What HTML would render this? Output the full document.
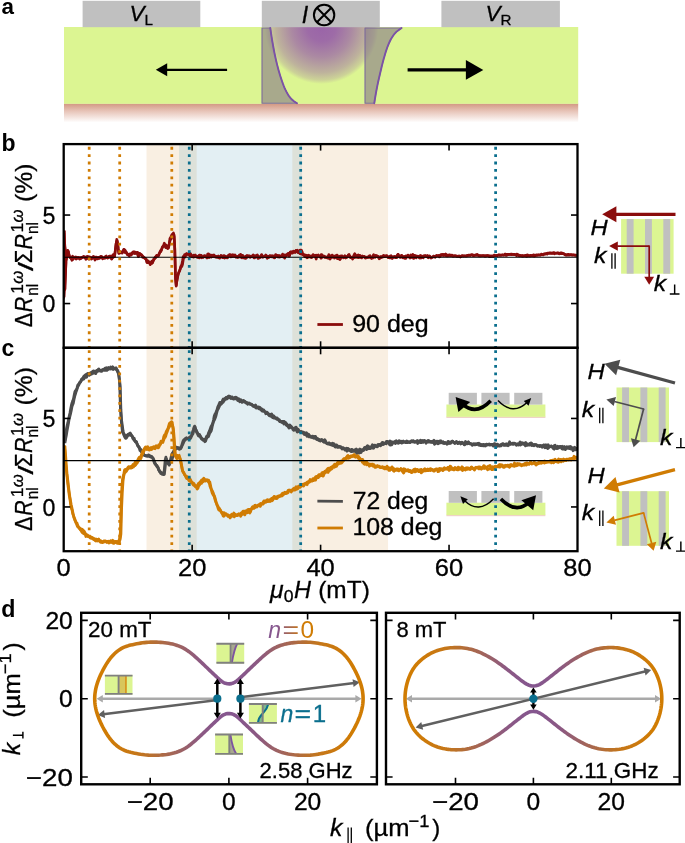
<!DOCTYPE html>
<html><head><meta charset="utf-8"><title>figure</title><style>html,body{margin:0;padding:0;background:#fff}svg{display:block}svg{will-change:transform}</style>
</head><body>
<svg width="685" height="843" viewBox="0 0 685 843" font-family='"Liberation Sans", sans-serif'>
<defs>
<linearGradient id="sub" x1="0" y1="0" x2="0" y2="1"><stop offset="0" stop-color="#d29782"/><stop offset="0.4" stop-color="#e7c4b8"/><stop offset="1" stop-color="#ffffff"/></linearGradient>
<radialGradient id="pur" gradientUnits="userSpaceOnUse" cx="321.5" cy="27" r="57"><stop offset="0" stop-color="#9a64a8" stop-opacity="1"/><stop offset="0.25" stop-color="#9a64a8" stop-opacity="0.95"/><stop offset="0.53" stop-color="#9a64a8" stop-opacity="0.74"/><stop offset="0.8" stop-color="#9a64a8" stop-opacity="0.46"/><stop offset="0.93" stop-color="#9a64a8" stop-opacity="0.24"/><stop offset="1" stop-color="#9a64a8" stop-opacity="0"/></radialGradient>
<clipPath id="clipA"><rect x="64" y="27" width="514.2" height="76.8"/></clipPath>
</defs>
<rect width="685" height="843" fill="#fff"/>
<g id="panelA">
<rect x="64" y="103.5" width="514.2" height="19" fill="url(#sub)"/>
<rect x="64" y="27" width="514.2" height="76.8" fill="#dcf592"/>
<circle cx="321.5" cy="27" r="57" fill="url(#pur)" clip-path="url(#clipA)"/>
<rect x="82.6" y="0.8" width="117.7" height="26.4" fill="#c0c0c0"/>
<rect x="261.8" y="0.8" width="118" height="26.4" fill="#c0c0c0"/>
<rect x="441.4" y="0.8" width="118.5" height="26.4" fill="#c0c0c0"/>
<polygon points="262,28 270.3,28 270.56,29.93 270.83,31.86 271.11,33.78 271.4,35.71 271.71,37.64 272.02,39.57 272.35,41.5 272.68,43.43 273.03,45.35 273.38,47.28 273.73,49.21 274.1,51.14 274.49,53.07 274.89,54.99 275.3,56.92 275.73,58.85 276.17,60.78 276.63,62.71 277.11,64.64 277.6,66.56 278.11,68.49 278.63,70.42 279.18,72.35 279.75,74.28 280.35,76.21 280.98,78.13 281.63,80.06 282.3,81.99 282.99,83.92 283.73,85.85 284.53,87.77 285.4,89.7 286.35,91.63 287.4,93.56 288.58,95.49 289.98,97.42 291.65,99.34 293.91,101.27 297,103.2 262,103.2" fill="#857689" fill-opacity="0.6" stroke="#7c6a9c" stroke-width="1.1" stroke-linejoin="round"/>
<polyline points="270.3,28 270.56,29.93 270.83,31.86 271.11,33.78 271.4,35.71 271.71,37.64 272.02,39.57 272.35,41.5 272.68,43.43 273.03,45.35 273.38,47.28 273.73,49.21 274.1,51.14 274.49,53.07 274.89,54.99 275.3,56.92 275.73,58.85 276.17,60.78 276.63,62.71 277.11,64.64 277.6,66.56 278.11,68.49 278.63,70.42 279.18,72.35 279.75,74.28 280.35,76.21 280.98,78.13 281.63,80.06 282.3,81.99 282.99,83.92 283.73,85.85 284.53,87.77 285.4,89.7 286.35,91.63 287.4,93.56 288.58,95.49 289.98,97.42 291.65,99.34 293.91,101.27 297,103.2" fill="none" stroke="#7b52a6" stroke-width="1.9" stroke-linecap="round"/>
<polygon points="365,28 401.6,28 398.79,29.93 396.33,31.86 394.54,33.78 393.09,35.71 391.84,37.64 390.75,39.57 389.78,41.5 388.89,43.43 388.08,45.35 387.33,47.28 386.65,49.21 386.01,51.14 385.41,53.07 384.84,54.99 384.28,56.92 383.73,58.85 383.2,60.78 382.69,62.71 382.2,64.64 381.72,66.56 381.26,68.49 380.8,70.42 380.35,72.35 379.9,74.28 379.45,76.21 379.01,78.13 378.57,80.06 378.14,81.99 377.73,83.92 377.32,85.85 376.93,87.77 376.56,89.7 376.2,91.63 375.85,93.56 375.52,95.49 375.19,97.42 374.88,99.34 374.58,101.27 374.3,103.2 365,103.2" fill="#857689" fill-opacity="0.6" stroke="#7c6a9c" stroke-width="1.1" stroke-linejoin="round"/>
<polyline points="401.6,28 398.79,29.93 396.33,31.86 394.54,33.78 393.09,35.71 391.84,37.64 390.75,39.57 389.78,41.5 388.89,43.43 388.08,45.35 387.33,47.28 386.65,49.21 386.01,51.14 385.41,53.07 384.84,54.99 384.28,56.92 383.73,58.85 383.2,60.78 382.69,62.71 382.2,64.64 381.72,66.56 381.26,68.49 380.8,70.42 380.35,72.35 379.9,74.28 379.45,76.21 379.01,78.13 378.57,80.06 378.14,81.99 377.73,83.92 377.32,85.85 376.93,87.77 376.56,89.7 376.2,91.63 375.85,93.56 375.52,95.49 375.19,97.42 374.88,99.34 374.58,101.27 374.3,103.2" fill="none" stroke="#7b52a6" stroke-width="1.9" stroke-linecap="round"/>
<line x1="227.1" y1="69.8" x2="166" y2="69.8" stroke="#000" stroke-width="2.3"/>
<polygon points="155.8,69.8 167.2,63.3 167.2,76.3" fill="#000"/>
<line x1="407.6" y1="69.9" x2="467" y2="69.9" stroke="#000" stroke-width="3.1"/>
<polygon points="483.3,69.9 465.9,60 465.9,79.8" fill="#000"/>
<text x="1.5" y="13.5" font-size="22.4" text-anchor="start" fill="#000" font-weight="bold" >a</text>
<text x="129.6" y="20.7" font-size="22.6" text-anchor="start" fill="#000" font-style="italic" stroke="#000" stroke-width="0.3" >V</text>
<text x="144.4" y="24.5" font-size="15.2" text-anchor="start" fill="#000" stroke="#000" stroke-width="0.3" >L</text>
<text x="301.8" y="22.5" font-size="23.2" text-anchor="start" fill="#000" font-style="italic" stroke="#000" stroke-width="0.3" >I</text>
<circle cx="324.1" cy="15" r="10.2" fill="none" stroke="#000" stroke-width="2"/>
<path d="M316.9,7.8 L331.3,22.2 M331.3,7.8 L316.9,22.2" stroke="#000" stroke-width="2"/>
<text x="485.6" y="20.7" font-size="22.6" text-anchor="start" fill="#000" font-style="italic" stroke="#000" stroke-width="0.3" >V</text>
<text x="500.4" y="24.5" font-size="15.2" text-anchor="start" fill="#000" stroke="#000" stroke-width="0.3" >R</text>
</g>
<g id="panelsBC">
<clipPath id="clipB"><rect x="63.7" y="144.1" width="513.8" height="203.7"/></clipPath>
<clipPath id="clipC"><rect x="63.7" y="347.8" width="513.8" height="203.4"/></clipPath>
<rect x="146.55" y="144.1" width="50.1" height="407.1" fill="#cc7a0e" fill-opacity="0.12"/>
<rect x="292.34" y="144.1" width="95.7" height="407.1" fill="#cc7a0e" fill-opacity="0.12"/>
<rect x="178.98" y="144.1" width="122.99" height="407.1" fill="#1b7a9a" fill-opacity="0.12"/>
<polyline clip-path="url(#clipB)" points="64.2,231.1 64.9,289.57 65.6,261.23 66.3,257.96 67,255.57 67.7,250.63 68.4,251.34 69.1,255.63 69.8,257.41 70.5,257.94 71.2,258.71 71.9,257.46 72.6,256.22 73.3,257.34 74,258.31 74.7,257.81 75.4,256.91 76.1,257.04 76.8,257.18 77.5,258.15 78.2,257.37 78.9,257.74 79.6,259.08 80.3,258.64 81,258.62 81.7,257.81 82.4,257.1 83.1,256.92 83.8,256.81 84.5,257.79 85.2,257.49 85.9,256.85 86.6,256.84 87.3,256.52 88,256.52 88.7,257.07 89.4,256.75 90.1,256.9 90.8,258.77 91.5,259.1 92.2,257.82 92.9,256.7 93.6,256.31 94.3,258.04 95,258.57 95.7,256.97 96.4,257.05 97.1,258.89 97.8,258.83 98.5,257.8 99.2,257.9 99.9,257.23 100.6,256.23 101.3,256.21 102,256.82 102.7,257.43 103.4,258.11 104.1,258.32 104.8,257.91 105.5,257.85 106.2,257.11 106.9,257.32 107.6,258.15 108.3,257.05 109,256.99 109.7,257.1 110.4,257.49 111.1,258.53 111.8,259.18 112.5,257.11 113.2,254.52 113.9,254.94 114.6,255.77 115.3,250.63 116,244.88 116.7,239.32 117.4,240.9 118.1,248.41 118.8,253.16 119.5,253.23 120.2,252.96 120.9,252.22 121.6,251.99 122.3,251.65 123,250.92 123.7,250.21 124.4,249.57 125.1,250.17 125.8,251.46 126.5,252.89 127.2,254.58 127.9,254.78 128.6,254.29 129.3,253.91 130,254.28 130.7,254.4 131.4,253.39 132.1,252.83 132.8,252.15 133.5,252.22 134.2,252.17 134.9,252.57 135.6,253.28 136.3,253.06 137,252.3 137.7,252.32 138.4,253.88 139.1,253.46 139.8,253.22 140.5,254.44 141.2,254.3 141.9,255.14 142.6,257.31 143.3,257.16 144,257.43 144.7,257.81 145.4,258.32 146.1,258.92 146.8,260.48 147.5,262.56 148.2,262.34 148.9,261.92 149.6,262.94 150.3,264.67 151,262.19 151.7,261.17 152.4,262.87 153.1,261.51 153.8,258.8 154.5,258.38 155.2,258.35 155.9,256.71 156.6,255.38 157.3,255.53 158,256.18 158.7,254.52 159.4,253.19 160.1,251.49 160.8,250.26 161.5,249.68 162.2,247.76 162.9,246.68 163.6,246.49 164.3,246.2 165,245.32 165.7,244.65 166.4,245.21 167.1,247.19 167.8,248.36 168.5,247.26 169.2,243.78 169.9,238.54 170.6,237.55 171.3,238.87 172,236.82 172.7,234 173.4,232.91 174.1,234.94 174.8,248.02 175.5,277.06 176.2,285.65 176.9,280.1 177.6,276.13 178.3,274.1 179,272.18 179.7,270.08 180.4,268.04 181.1,265.94 181.8,264.53 182.5,260.82 183.2,256.55 183.9,256.47 184.6,257.41 185.3,256.14 186,254.07 186.7,253.81 187.4,254.56 188.1,254.54 188.8,254.26 189.5,254.48 190.2,253.45 190.9,254.19 191.6,255.7 192.3,256.61 193,256.36 193.7,255.12 194.4,255.61 195.1,256.23 195.8,256.07 196.5,255.89 197.2,256.51 197.9,256.84 198.6,257.37 199.3,257.9 200,257.08 200.7,255.24 201.4,255.22 202.1,256.63 202.8,256.79 203.5,257.23 204.2,256.43 204.9,256.29 205.6,256.2 206.3,256.98 207,256.47 207.7,253.96 208.4,253.76 209.1,254.36 209.8,254.73 210.5,256.67 211.2,257.22 211.9,254.99 212.6,255.98 213.3,256.5 214,254.91 214.7,255.91 215.4,257.18 216.1,256.29 216.8,256.83 217.5,257.22 218.2,257.37 218.9,257.63 219.6,257.6 220.3,257.33 221,255.45 221.7,257.05 222.4,257.51 223.1,255.72 223.8,255.62 224.5,255.62 225.2,256.27 225.9,256.55 226.6,256.84 227.3,257.92 228,257.4 228.7,255.35 229.4,254.64 230.1,255.03 230.8,254.7 231.5,255.71 232.2,256.52 232.9,255.75 233.6,256.09 234.3,255.36 235,254.78 235.7,256.19 236.4,257.2 237.1,256.45 237.8,257.26 238.5,256.68 239.2,255.22 239.9,255.95 240.6,254.29 241.3,255.77 242,257.92 242.7,255.9 243.4,257.04 244.1,258.15 244.8,257.06 245.5,256.25 246.2,256.03 246.9,255.41 247.6,255.88 248.3,256.66 249,256.22 249.7,257.29 250.4,257.4 251.1,256.76 251.8,256.76 252.5,256.08 253.2,256.46 253.9,258.01 254.6,257.96 255.3,257.51 256,256.4 256.7,255.21 257.4,254.83 258.1,256.26 258.8,257.06 259.5,257.18 260.2,256.82 260.9,255.57 261.6,256.17 262.3,257.08 263,257.06 263.7,256.57 264.4,256.53 265.1,256.5 265.8,255.72 266.5,255.65 267.2,256.27 267.9,256.16 268.6,256.61 269.3,256.17 270,255.76 270.7,256 271.4,256.32 272.1,257.04 272.8,256.08 273.5,255.92 274.2,257.94 274.9,256.52 275.6,254.52 276.3,254.89 277,255.23 277.7,256.89 278.4,257.06 279.1,255.44 279.8,255.81 280.5,255.83 281.2,256.13 281.9,256.7 282.6,256.83 283.3,256.12 284,257.18 284.7,258.13 285.4,256.46 286.1,255.8 286.8,254.67 287.5,253.75 288.2,253.66 288.9,253.14 289.6,252.84 290.3,252.25 291,251.97 291.7,252.79 292.4,251.63 293.1,251.54 293.8,251.63 294.5,251.42 295.2,251.74 295.9,251.66 296.6,250.77 297.3,250.22 298,252.3 298.7,252.41 299.4,250.49 300.1,249.94 300.8,249.94 301.5,250.16 302.2,251.92 302.9,254.56 303.6,254.87 304.3,254.53 305,255.04 305.7,255.07 306.4,255.23 307.1,255.26 307.8,255.78 308.5,255.14 309.2,255.55 309.9,257.01 310.6,256.23 311.3,256.19 312,255.88 312.7,255 313.4,255.61 314.1,255.87 314.8,255.49 315.5,255.19 316.2,255.14 316.9,256.26 317.6,255.35 318.3,254.97 319,256.15 319.7,256.43 320.4,256.96 321.1,254.59 321.8,254.66 322.5,256.78 323.2,256.42 323.9,255.9 324.6,256.48 325.3,256.53 326,257.21 326.7,257.88 327.4,258.1 328.1,257.2 328.8,254.56 329.5,255.59 330.2,257.37 330.9,256.92 331.6,255.31 332.3,254.99 333,256.46 333.7,256.64 334.4,256.15 335.1,256.17 335.8,255.62 336.5,255.38 337.2,255.05 337.9,256.62 338.6,257.27 339.3,256.4 340,256.03 340.7,256.25 341.4,255.68 342.1,255.77 342.8,257.02 343.5,257.83 344.2,256.97 344.9,255.6 345.6,256.74 346.3,257.52 347,256.99 347.7,256.22 348.4,255.05 349.1,254.44 349.8,256.2 350.5,257.52 351.2,257.02 351.9,257.67 352.6,259.06 353.3,257.63 354,254.8 354.7,253.64 355.4,254.75 356.1,256.72 356.8,257.46 357.5,255.29 358.2,254.92 358.9,257.44 359.6,257.35 360.3,255.75 361,257.4 361.7,257.95 362.4,256.23 363.1,256.43 363.8,256.77 364.5,256.25 365.2,257.06 365.9,258.11 366.6,257.86 367.3,257.04 368,257.25 368.7,257.29 369.4,256.83 370.1,257.57 370.8,257.8 371.5,258.32 372.2,258.08 372.9,255.72 373.6,254.63 374.3,256.69 375,257.26 375.7,256.6 376.4,256.25 377.1,256.67 377.8,256.99 378.5,257.3 379.2,257.2 379.9,256.97 380.6,257.79 381.3,256.55 382,256.84 382.7,256.72 383.4,255.41 384.1,256.52 384.8,256.65 385.5,255.76 386.2,255.95 386.9,255.68 387.6,256.62 388.3,257.71 389,256.96 389.7,256.47 390.4,256.83 391.1,258.1 391.8,258.39 392.5,256.84 393.2,256.78 393.9,257.04 394.6,256.38 395.3,257.73 396,257.58 396.7,255.99 397.4,254.95 398.1,254.32 398.8,255.95 399.5,256.43 400.2,256.48 400.9,256.19 401.6,255.32 402.3,256.54 403,258.05 403.7,257.99 404.4,257.81 405.1,258.56 405.8,258.46 406.5,256.67 407.2,255.89 407.9,256.94 408.6,256.73 409.3,256.61 410,255.81 410.7,254.94 411.4,256.37 412.1,255.41 412.8,254.29 413.5,255.8 414.2,255.38 414.9,255.42 415.6,256.04 416.3,255.8 417,256.16 417.7,256.48 418.4,256.27 419.1,256.2 419.8,256.17 420.5,256.48 421.2,257.99 421.9,257.72 422.6,256.72 423.3,255.86 424,256.18 424.7,256.43 425.4,255.53 426.1,256.3 426.8,256.86 427.5,257.15 428.2,257.82 428.9,256.9 429.6,256.19 430.3,257.36 431,257.74 431.7,257.16 432.4,257.26 433.1,256.56 433.8,256.19 434.5,257.01 435.2,257.34 435.9,256.28 436.6,255.41 437.3,255.81 438,255.71 438.7,255.33 439.4,255.6 440.1,255.53 440.8,254.59 441.5,254.78 442.2,255.17 442.9,254.77 443.6,254.39 444.3,254.88 445,254.68 445.7,253.95 446.4,254.5 447.1,255.25 447.8,255.64 448.5,255.12 449.2,254.85 449.9,254.85 450.6,255.15 451.3,255.23 452,255.07 452.7,255.64 453.4,255.7 454.1,255.86 454.8,255.81 455.5,255.66 456.2,256.06 456.9,256.02 457.6,256.17 458.3,256.34 459,255.77 459.7,256.46 460.4,256.91 461.1,256.12 461.8,255.67 462.5,255.6 463.2,255.71 463.9,255.74 464.6,255.81 465.3,255.94 466,255.8 466.7,255.43 467.4,255.37 468.1,255.14 468.8,254.94 469.5,255.12 470.2,255.25 470.9,254.86 471.6,254.46 472.3,254.57 473,255.03 473.7,255.05 474.4,255.19 475.1,255.08 475.8,254.8 476.5,254.5 477.2,254.41 477.9,254.9 478.6,255.18 479.3,255.64 480,255.6 480.7,255.62 481.4,255.81 482.1,255.78 482.8,255.62 483.5,255.76 484.2,255.69 484.9,255.57 485.6,255.64 486.3,255.49 487,255.43 487.7,255.46 488.4,255.84 489.1,255.95 489.8,255.62 490.5,255.92 491.2,256.23 491.9,256.11 492.6,256.14 493.3,255.75 494,255.14 494.7,255.01 495.4,255.55 496.1,255.44 496.8,255.26 497.5,255.25 498.2,255.07 498.9,254.74 499.6,254.8 500.3,255.07 501,254.94 501.7,254.91 502.4,254.84 503.1,254.73 503.8,254.68 504.5,254.36 505.2,253.95 505.9,254.35 506.6,254.52 507.3,254.29 508,254.23 508.7,254.34 509.4,254.23 510.1,254.21 510.8,254.13 511.5,253.94 512.2,254.32 512.9,254.63 513.6,254.25 514.3,254.26 515,254.35 515.7,254.42 516.4,254.34 517.1,254.08 517.8,254.47 518.5,254.77 519.2,255.26 519.9,255.58 520.6,255.72 521.3,255.88 522,255.59 522.7,255.38 523.4,255.7 524.1,255.8 524.8,255.58 525.5,255.3 526.2,255.3 526.9,255 527.6,254.91 528.3,255.24 529,255.44 529.7,255.5 530.4,255.26 531.1,255.58 531.8,255.39 532.5,255.13 533.2,254.91 533.9,254.81 534.6,255.2 535.3,255.29 536,254.97 536.7,254.8 537.4,254.97 538.1,254.84 538.8,254.74 539.5,254.77 540.2,254.75 540.9,254.38 541.6,253.97 542.3,254.55 543,255.04 543.7,254.13 544.4,253.7 545.1,253.96 545.8,253.87 546.5,253.64 547.2,253.17 547.9,252.98 548.6,252.95 549.3,252.92 550,252.88 550.7,252.77 551.4,252.99 552.1,253.25 552.8,252.82 553.5,252.49 554.2,252.59 554.9,252.96 555.6,253.13 556.3,253.22 557,253.18 557.7,252.94 558.4,252.82 559.1,253.12 559.8,253.37 560.5,252.88 561.2,252.92 561.9,252.87 562.6,253.11 563.3,253.73 564,253.95 564.7,254.38 565.4,254.42 566.1,254.43 566.8,254.69 567.5,254.61 568.2,254.23 568.9,254.53 569.6,254.88 570.3,254.7 571,254.55 571.7,254.6 572.4,254.87 573.1,254.81 573.8,254.75 574.5,254.94 575.2,255.13 575.9,255.04 576.6,255.46 577.3,255.15" fill="none" stroke="#8a0c0c" stroke-width="2.6" stroke-linejoin="round"/>
<polyline clip-path="url(#clipB)" points="64.2,230.22 64.9,289.06 65.6,261.01 66.3,259.21 67,256.11 67.7,250.31 68.4,251.99 69.1,254.96 69.8,256.64 70.5,257.06 71.2,258.14 71.9,260.29 72.6,259.93 73.3,257.59 74,257.91 74.7,258.25 75.4,257.85 76.1,259.04 76.8,258.53 77.5,257.73 78.2,257.63 78.9,257.5 79.6,258.26 80.3,257.69 81,257.27 81.7,257.77 82.4,257.55 83.1,256.9 83.8,256.35 84.5,257.04 85.2,257.81 85.9,259.42 86.6,257.94 87.3,256.48 88,258.37 88.7,259.2 89.4,259.28 90.1,257.77 90.8,257.41 91.5,258.33 92.2,258.1 92.9,258.24 93.6,257.17 94.3,257.81 95,260.06 95.7,258.64 96.4,258.04 97.1,258.28 97.8,257.29 98.5,257.3 99.2,258.52 99.9,258.18 100.6,257.23 101.3,257.41 102,257.94 102.7,258.83 103.4,258.08 104.1,257.53 104.8,258.08 105.5,256.44 106.2,255.97 106.9,257.11 107.6,257.33 108.3,257.6 109,256.2 109.7,255.97 110.4,256.85 111.1,255.79 111.8,256.55 112.5,257.93 113.2,257 113.9,256.89 114.6,256.81 115.3,250.21 116,243.87 116.7,241.31 117.4,242.26 118.1,246.69 118.8,253.35 119.5,252.14 120.2,251.59 120.9,252.83 121.6,253.01 122.3,253.16 123,251.58 123.7,249.28 124.4,250.44 125.1,252.63 125.8,252.13 126.5,252.47 127.2,254 127.9,254.98 128.6,255.44 129.3,256.19 130,254.7 130.7,254.08 131.4,255.03 132.1,253.64 132.8,253.69 133.5,251.88 134.2,251.7 134.9,253.59 135.6,252.16 136.3,252.4 137,253.23 137.7,254.99 138.4,256.76 139.1,255.65 139.8,254.36 140.5,254.21 141.2,255.09 141.9,255.76 142.6,256.03 143.3,256.65 144,257.69 144.7,258.43 145.4,258.91 146.1,259.44 146.8,262.42 147.5,262.75 148.2,260.89 148.9,262.56 149.6,263.17 150.3,263.04 151,263.45 151.7,263.49 152.4,262.79 153.1,260.51 153.8,259.97 154.5,258.66 155.2,257.11 155.9,257.33 156.6,256.07 157.3,256.17 158,256.04 158.7,255.47 159.4,253.44 160.1,251.98 160.8,251.9 161.5,250.02 162.2,247.48 162.9,246.24 163.6,245.24 164.3,243.14 165,245.77 165.7,247.59 166.4,247.44 167.1,248.14 167.8,248.46 168.5,248.09 169.2,244.9 169.9,241.32 170.6,238.84 171.3,235.62 172,234.55 172.7,234.97 173.4,234.62 174.1,236.18 174.8,249.59 175.5,279.19 176.2,286.11 176.9,281.41 177.6,277.45 178.3,273.46 179,271.78 179.7,270.97 180.4,268.66 181.1,266.12 181.8,266.53 182.5,264.47 183.2,260.38 183.9,256.48 184.6,254.48 185.3,255.87 186,254.99 186.7,253.59 187.4,253.98 188.1,254.39 188.8,253.87 189.5,255.11 190.2,256.71 190.9,256.46 191.6,255.54 192.3,255.93 193,256.97 193.7,257.11 194.4,255.59 195.1,254.97 195.8,256.23 196.5,256.91 197.2,257.35 197.9,257.47 198.6,256.07 199.3,255.1 200,255.07 200.7,256.79 201.4,257.77 202.1,256.94 202.8,257.53 203.5,256.95 204.2,255.49 204.9,255.44 205.6,256.13 206.3,257.45 207,258.16 207.7,256.41 208.4,256.29 209.1,257.53 209.8,256.37 210.5,255.81 211.2,255.28 211.9,255.59 212.6,256.64 213.3,255.51 214,255.26 214.7,256.34 215.4,256.45 216.1,256.49 216.8,257.25 217.5,256.48 218.2,255.9 218.9,257.93 219.6,258.23 220.3,256.21 221,256.17 221.7,255.85 222.4,256.58 223.1,257.75 223.8,257.72 224.5,258.09 225.2,257.62 225.9,257.68 226.6,257.55 227.3,256.44 228,255.62 228.7,255.77 229.4,254.77 230.1,256.32 230.8,256.86 231.5,255.57 232.2,255.85 232.9,254.53 233.6,255.37 234.3,256.55 235,256.5 235.7,257.08 236.4,256.77 237.1,256.66 237.8,257.44 238.5,256.96 239.2,256.42 239.9,257.02 240.6,257.25 241.3,257 242,255.35 242.7,255.28 243.4,257.16 244.1,257.03 244.8,257 245.5,258.39 246.2,258.22 246.9,257.38 247.6,256.75 248.3,255.72 249,255.98 249.7,255.87 250.4,256.19 251.1,256.25 251.8,256.14 252.5,255.8 253.2,254.8 253.9,255.31 254.6,255.71 255.3,255.73 256,256.04 256.7,256.24 257.4,257.37 258.1,258.54 258.8,258.32 259.5,257.15 260.2,257.67 260.9,256.88 261.6,254.48 262.3,255.7 263,257.07 263.7,256.79 264.4,256.81 265.1,255.78 265.8,254.96 266.5,256.9 267.2,258.38 267.9,257.04 268.6,257.64 269.3,257.38 270,255.67 270.7,256.57 271.4,256.13 272.1,255.58 272.8,256.25 273.5,256.28 274.2,256.97 274.9,257.61 275.6,256.24 276.3,255.34 277,256.18 277.7,256.56 278.4,255.86 279.1,256.16 279.8,257.21 280.5,256.45 281.2,256.38 281.9,255.66 282.6,253.98 283.3,255.37 284,255.84 284.7,254.77 285.4,255.1 286.1,255.25 286.8,255.46 287.5,254.56 288.2,253.6 288.9,256.17 289.6,255.91 290.3,251.89 291,251.72 291.7,253 292.4,253.27 293.1,252.75 293.8,251.14 294.5,251.81 295.2,252.6 295.9,250.36 296.6,250.47 297.3,251.82 298,252.48 298.7,252.85 299.4,253.07 300.1,253.81 300.8,253.99 301.5,254.18 302.2,253.84 302.9,254.24 303.6,255.27 304.3,255.82 305,256.77 305.7,257.02 306.4,256.56 307.1,257.85 307.8,257.56 308.5,256.54 309.2,256.12 309.9,255.82 310.6,257.38 311.3,257.6 312,257.5 312.7,256.6 313.4,254.69 314.1,255.66 314.8,255.7 315.5,257.34 316.2,259.14 316.9,256.51 317.6,255.57 318.3,256.05 319,256.46 319.7,256.84 320.4,257.21 321.1,258.26 321.8,257.5 322.5,255.72 323.2,256.27 323.9,256.97 324.6,257.38 325.3,257.4 326,257.2 326.7,257.55 327.4,256.87 328.1,256.35 328.8,256.97 329.5,259 330.2,259.09 330.9,257.3 331.6,257.22 332.3,257.39 333,256.05 333.7,256.19 334.4,258.12 335.1,257.7 335.8,255.89 336.5,256.44 337.2,258.46 337.9,258.77 338.6,258.22 339.3,259.15 340,259.56 340.7,258.49 341.4,257.25 342.1,256.86 342.8,256.94 343.5,257.43 344.2,256.9 344.9,257.38 345.6,258.08 346.3,256.77 347,257.22 347.7,256.09 348.4,254.98 349.1,255.94 349.8,257.07 350.5,257.19 351.2,257.6 351.9,257.63 352.6,257.02 353.3,256.85 354,257.28 354.7,257.6 355.4,257.17 356.1,257.01 356.8,255.92 357.5,256.1 358.2,257.59 358.9,257.06 359.6,255.28 360.3,255.76 361,257.33 361.7,256.83 362.4,255.93 363.1,256.78 363.8,256.93 364.5,257 365.2,258.03 365.9,257.85 366.6,257.01 367.3,257.51 368,257.52 368.7,256.35 369.4,255.71 370.1,255.6 370.8,257.59 371.5,258.32 372.2,257.42 372.9,257.94 373.6,256.91 374.3,256.85 375,257.11 375.7,255.27 376.4,255.5 377.1,256.19 377.8,256.11 378.5,257.08 379.2,258.86 379.9,258.29 380.6,256.63 381.3,257.22 382,257.46 382.7,257.1 383.4,256.24 384.1,255.7 384.8,256.31 385.5,256.18 386.2,255.85 386.9,255.79 387.6,257 388.3,256.84 389,257.37 389.7,257.99 390.4,255.98 391.1,255.58 391.8,256.82 392.5,258.32 393.2,257.22 393.9,256.75 394.6,257.22 395.3,256.83 396,257.04 396.7,257.72 397.4,256.32 398.1,254.29 398.8,255.73 399.5,257.19 400.2,257.52 400.9,256.41 401.6,255.27 402.3,257.48 403,257.26 403.7,256.45 404.4,256.8 405.1,256.28 405.8,255.88 406.5,256.96 407.2,256.6 407.9,254.98 408.6,255.65 409.3,257.26 410,258.08 410.7,257.74 411.4,257.52 412.1,257.22 412.8,257.56 413.5,258.45 414.2,258.27 414.9,256.22 415.6,256.83 416.3,257.89 417,256.35 417.7,256.16 418.4,256.24 419.1,257.77 419.8,258.2 420.5,255.43 421.2,255.88 421.9,256.65 422.6,257.28 423.3,257.87 424,255.96 424.7,255.59 425.4,256.02 426.1,255.88 426.8,256.14 427.5,255.45 428.2,255.93 428.9,256.55 429.6,255.98 430.3,256.82 431,258.2 431.7,257.46 432.4,257.36 433.1,256.62 433.8,255.99 434.5,256.59 435.2,256.23 435.9,255.99 436.6,255.7 437.3,255.9 438,255.91 438.7,256.11 439.4,257 440.1,256.52 440.8,255.56 441.5,255.12 442.2,254.31 442.9,255.28 443.6,255.6 444.3,254.94 445,255.31 445.7,255.75 446.4,255.82 447.1,256.05 447.8,255.94 448.5,255.14 449.2,255.28 449.9,255.74 450.6,255.61 451.3,255.59 452,255.71 452.7,256.2 453.4,256.26 454.1,255.72 454.8,255.97 455.5,255.95 456.2,256.04 456.9,256.54 457.6,256.34 458.3,256.18 459,256.26 459.7,256.7 460.4,256.89 461.1,256.31 461.8,255.94 462.5,256.1 463.2,256.27 463.9,256.05 464.6,256.01 465.3,256.02 466,256.07 466.7,256.1 467.4,255.76 468.1,255.61 468.8,255.36 469.5,255.43 470.2,255.62 470.9,255.32 471.6,255.24 472.3,255.22 473,255.7 473.7,255.73 474.4,255.37 475.1,255.56 475.8,255.34 476.5,255.31 477.2,255.46 477.9,255.56 478.6,255.74 479.3,255.9 480,256.07 480.7,255.9 481.4,255.7 482.1,255.73 482.8,255.73 483.5,255.56 484.2,255.91 484.9,256.29 485.6,256.18 486.3,255.91 487,255.69 487.7,255.56 488.4,255.86 489.1,256.5 489.8,256.65 490.5,256.5 491.2,256.15 491.9,256.12 492.6,256.29 493.3,256.37 494,256.45 494.7,256.18 495.4,255.93 496.1,256.03 496.8,256.04 497.5,255.77 498.2,255.15 498.9,254.96 499.6,255.47 500.3,255.54 501,255.49 501.7,255.32 502.4,255.09 503.1,255.27 503.8,255.34 504.5,255.22 505.2,255.26 505.9,255.4 506.6,255.42 507.3,254.79 508,254.38 508.7,254.61 509.4,254.61 510.1,254.33 510.8,254.64 511.5,254.76 512.2,254.52 512.9,254.26 513.6,254.18 514.3,254.66 515,254.65 515.7,254.94 516.4,255.69 517.1,255.48 517.8,254.94 518.5,255.58 519.2,255.97 519.9,255.67 520.6,255.41 521.3,255.72 522,256.1 522.7,256.33 523.4,256.18 524.1,255.87 524.8,256 525.5,255.99 526.2,256.26 526.9,256.45 527.6,256.1 528.3,255.88 529,255.93 529.7,256.09 530.4,256.06 531.1,255.62 531.8,255.54 532.5,255.7 533.2,255.89 533.9,256.1 534.6,256.11 535.3,255.87 536,255.45 536.7,255.42 537.4,255.42 538.1,255.12 538.8,255.15 539.5,255.28 540.2,255.33 540.9,254.99 541.6,254.39 542.3,254.55 543,254.57 543.7,254.53 544.4,254.36 545.1,253.91 545.8,253.62 546.5,254 547.2,254.14 547.9,253.59 548.6,253.46 549.3,253.33 550,253.52 550.7,253.53 551.4,253.32 552.1,253.53 552.8,253.27 553.5,253.27 554.2,253.87 554.9,253.4 555.6,253.18 556.3,253.23 557,252.81 557.7,252.94 558.4,253.51 559.1,253.88 559.8,253.75 560.5,253.49 561.2,253.57 561.9,253.71 562.6,253.8 563.3,253.61 564,253.84 564.7,254.45 565.4,255.08 566.1,255.39 566.8,255.06 567.5,255.06 568.2,255.25 568.9,255.17 569.6,254.73 570.3,254.73 571,255.1 571.7,255.27 572.4,255.17 573.1,254.95 573.8,255.03 574.5,255.21 575.2,255.35 575.9,255.26 576.6,255.19 577.3,255" fill="none" stroke="#8a0c0c" stroke-width="2.6" stroke-linejoin="round"/>
<polygon points="63.8,231 65.2,233 66.2,246 67.6,255 67.4,263 66.4,278 65.4,297 63.8,300" fill="#8a0c0c"/>
<polyline clip-path="url(#clipC)" points="64.4,442.99 65.1,438.78 65.8,433.68 66.5,428.63 67.2,425.16 67.9,422.74 68.6,418.88 69.3,415.69 70,412.79 70.7,408.87 71.4,405.21 72.1,402.74 72.8,400.81 73.5,398.66 74.2,395.07 74.9,391.78 75.6,390.58 76.3,389.94 77,387.82 77.7,385.26 78.4,384.55 79.1,383.52 79.8,382.17 80.5,382.02 81.2,380.95 81.9,379.25 82.6,378.42 83.3,377.26 84,376.07 84.7,375.47 85.4,374.9 86.1,374.47 86.8,374.08 87.5,373.76 88.2,373.55 88.9,373.46 89.6,373.26 90.3,373.66 91,372.46 91.7,372.16 92.4,372.59 93.1,371.09 93.8,370.91 94.5,371.38 95.2,371.82 95.9,371.05 96.6,370.43 97.3,370.85 98,369.7 98.7,368.86 99.4,369.83 100.1,370.6 100.8,370.66 101.5,370.38 102.2,369.84 102.9,369.44 103.6,369.68 104.3,369.01 105,368.15 105.7,368.61 106.4,367.73 107.1,368.06 107.8,368.32 108.5,367.5 109.2,368.9 109.9,368.43 110.6,367 111.3,368.16 112,367.85 112.7,366.83 113.4,367.68 114.1,368.24 114.8,368.47 115.5,368.68 116.2,369.41 116.9,370.17 117.6,370.32 118.3,371.75 119,376.42 119.7,384.05 120.4,407.8 121.1,418.86 121.8,425.96 122.5,432.23 123.2,433.32 123.9,433.56 124.6,434.98 125.3,436.38 126,436.24 126.7,435.38 127.4,434.93 128.1,434.15 128.8,434.4 129.5,433.58 130.2,432.88 130.9,434.14 131.6,435.7 132.3,436.27 133,437.62 133.7,439.54 134.4,440.47 135.1,441.35 135.8,441.14 136.5,441.85 137.2,444.17 137.9,445.58 138.6,446.19 139.3,448.18 140,450.56 140.7,450.93 141.4,452.1 142.1,452.34 142.8,451.42 143.5,453.76 144.2,455.28 144.9,455.41 145.6,455.94 146.3,455.7 147,455.85 147.7,456.03 148.4,454.96 149.1,455.07 149.8,456.06 150.5,457.03 151.2,456.76 151.9,456.64 152.6,458.1 153.3,459.33 154,461.82 154.7,463.52 155.4,463.81 156.1,464.9 156.8,466.54 157.5,467.03 158.2,467.62 158.9,470.05 159.6,471.72 160.3,471.94 161,472.18 161.7,472.89 162.4,472.92 163.1,473.82 163.8,474.44 164.5,468.11 165.2,459.81 165.9,457.16 166.6,459.35 167.3,461.9 168,463.23 168.7,463.99 169.4,463.88 170.1,461.45 170.8,458.32 171.5,455.74 172.2,453.26 172.9,452.36 173.6,451.32 174.3,449.43 175,447.59 175.7,446.77 176.4,447.33 177.1,447.66 177.8,447.75 178.5,447.61 179.2,447.88 179.9,449.1 180.6,448.73 181.3,447.07 182,444.38 182.7,442.1 183.4,440.3 184.1,439.48 184.8,439.19 185.5,438.28 186.2,438 186.9,438.49 187.6,438.85 188.3,438.46 189,437.56 189.7,437.28 190.4,436.56 191.1,435.91 191.8,434.74 192.5,432.05 193.2,430.1 193.9,427.63 194.6,426.09 195.3,427.18 196,430.59 196.7,432.38 197.4,432.64 198.1,434.09 198.8,434.45 199.5,434.42 200.2,435.8 200.9,437.29 201.6,437.86 202.3,439.12 203,439.58 203.7,439.21 204.4,440.2 205.1,440.71 205.8,438.51 206.5,436.55 207.2,436.83 207.9,435.06 208.6,432.68 209.3,431.36 210,429.41 210.7,427.44 211.4,425.95 212.1,424.79 212.8,423.06 213.5,420.09 214.2,416.17 214.9,414.25 215.6,413.25 216.3,411.6 217,409.89 217.7,407.06 218.4,405.72 219.1,404.14 219.8,402.36 220.5,402.62 221.2,402.4 221.9,402.31 222.6,400.23 223.3,398.94 224,399.87 224.7,398.96 225.4,398.41 226.1,397.57 226.8,397.2 227.5,397.74 228.2,396.7 228.9,395.98 229.6,396.37 230.3,396.41 231,397.1 231.7,397.62 232.4,397.88 233.1,398.54 233.8,398.08 234.5,397.58 235.2,397.28 235.9,397.2 236.6,397.52 237.3,398.37 238,398.6 238.7,398.74 239.4,399.56 240.1,399.56 240.8,399.65 241.5,400.92 242.2,402.11 242.9,401.25 243.6,400.59 244.3,401.06 245,401.28 245.7,402.51 246.4,403.28 247.1,403.42 247.8,404.26 248.5,403.68 249.2,402.98 249.9,403.53 250.6,404.46 251.3,404.71 252,404.83 252.7,405.8 253.4,406.39 254.1,406.36 254.8,405.7 255.5,405.02 256.2,406.34 256.9,407.72 257.6,407.02 258.3,406.89 259,407.5 259.7,407.26 260.4,407.99 261.1,408.82 261.8,408.93 262.5,410.12 263.2,410.63 263.9,410.95 264.6,411.65 265.3,411.82 266,412.08 266.7,413.45 267.4,413.79 268.1,414.12 268.8,414.19 269.5,414.18 270.2,415.18 270.9,414.88 271.6,413.88 272.3,415.5 273,416.68 273.7,415.79 274.4,416.85 275.1,417.77 275.8,418.25 276.5,418.49 277.2,417.98 277.9,418.95 278.6,419.65 279.3,419.72 280,420.87 280.7,421.75 281.4,421.74 282.1,421.38 282.8,421.76 283.5,421.36 284.2,421.48 284.9,422.3 285.6,422.48 286.3,423.46 287,424.26 287.7,425.37 288.4,426.66 289.1,425.26 289.8,424.94 290.5,425.76 291.2,426.34 291.9,427.3 292.6,427.85 293.3,428.29 294,428.56 294.7,428.6 295.4,427.29 296.1,427.19 296.8,428.38 297.5,429.07 298.2,429.34 298.9,430.75 299.6,431.52 300.3,431.69 301,431.94 301.7,432.45 302.4,432.35 303.1,432.14 303.8,432.41 304.5,432.66 305.2,434.47 305.9,433.74 306.6,432.81 307.3,434.09 308,434.76 308.7,434.25 309.4,435.25 310.1,436.29 310.8,436.67 311.5,437.12 312.2,436.18 312.9,436.07 313.6,437.67 314.3,437.5 315,436.86 315.7,438.16 316.4,439.21 317.1,439.61 317.8,438.63 318.5,439.55 319.2,440.49 319.9,439.71 320.6,440.06 321.3,440.21 322,439.98 322.7,440.19 323.4,441.61 324.1,441.34 324.8,439.68 325.5,440.9 326.2,442.56 326.9,442.9 327.6,443.85 328.3,443.36 329,442.81 329.7,443.67 330.4,444.44 331.1,444.94 331.8,444.12 332.5,443.13 333.2,443.65 333.9,443.75 334.6,444.68 335.3,445.52 336,445 336.7,444.96 337.4,446.13 338.1,446.95 338.8,446.18 339.5,446.55 340.2,446.93 340.9,447.12 341.6,448.04 342.3,447.81 343,447.6 343.7,448.18 344.4,448.69 345.1,448.95 345.8,448.58 346.5,448.14 347.2,448.48 347.9,448.5 348.6,448.91 349.3,449.7 350,449.88 350.7,449.81 351.4,449.33 352.1,449.33 352.8,450.48 353.5,450.99 354.2,450.43 354.9,449.72 355.6,449.85 356.3,449.01 357,449.69 357.7,451.27 358.4,450.49 359.1,449.75 359.8,449.04 360.5,449.9 361.2,450.15 361.9,449.86 362.6,450.38 363.3,450.27 364,448.41 364.7,447.32 365.4,447.46 366.1,447.24 366.8,446.51 367.5,445.69 368.2,446.13 368.9,446.65 369.6,447.08 370.3,447.02 371,447.3 371.7,446.34 372.4,444.71 373.1,445.56 373.8,445.92 374.5,445.08 375.2,445.39 375.9,446.23 376.6,446.29 377.3,445.31 378,444.42 378.7,444.53 379.4,444.35 380.1,444.55 380.8,444.06 381.5,443.54 382.2,442.47 382.9,442.49 383.6,444.28 384.3,443.72 385,443.26 385.7,442.29 386.4,441.47 387.1,441.42 387.8,441.65 388.5,442.62 389.2,441.7 389.9,440.96 390.6,441.32 391.3,442.94 392,443.16 392.7,441.95 393.4,442.14 394.1,442.19 394.8,441.85 395.5,440.99 396.2,440.73 396.9,442.21 397.6,442.65 398.3,441.6 399,440.75 399.7,440.88 400.4,441.56 401.1,441.23 401.8,441.64 402.5,441.65 403.2,441.08 403.9,441.79 404.6,441.97 405.3,442.09 406,441.84 406.7,441.03 407.4,441.36 408.1,441.67 408.8,442.02 409.5,442.11 410.2,441.48 410.9,441.48 411.6,441.82 412.3,441.01 413,440.59 413.7,440.99 414.4,441.66 415.1,441.58 415.8,441.5 416.5,441.1 417.2,440.53 417.9,441.72 418.6,441.61 419.3,441.65 420,440.76 420.7,440.19 421.4,441.31 422.1,441.23 422.8,440.39 423.5,440.8 424.2,440.39 424.9,440.54 425.6,441.89 426.3,441.92 427,441.65 427.7,440.6 428.4,440.48 429.1,440.83 429.8,441.41 430.5,441.5 431.2,441.43 431.9,441.85 432.6,442.38 433.3,441.14 434,440.24 434.7,441.62 435.4,442.2 436.1,441.59 436.8,441.12 437.5,441.39 438.2,441.61 438.9,441.4 439.6,441.03 440.3,440.77 441,440.93 441.7,442.23 442.4,441.97 443.1,441.78 443.8,443.28 444.5,442.92 445.2,443.16 445.9,443.01 446.6,442.69 447.3,442.76 448,441.33 448.7,441.56 449.4,443.16 450.1,442.71 450.8,442.02 451.5,441.84 452.2,441.18 452.9,441.94 453.6,442.33 454.3,442.42 455,443.2 455.7,442.35 456.4,441.39 457.1,442.06 457.8,443.63 458.5,443.49 459.2,442.11 459.9,442.55 460.6,443.92 461.3,443.46 462,442.29 462.7,442.66 463.4,443.26 464.1,444.41 464.8,443.45 465.5,441.55 466.2,442.32 466.9,443.5 467.6,442.35 468.3,441.83 469,443.51 469.7,443.62 470.4,443.44 471.1,443.86 471.8,444 472.5,444.19 473.2,444.05 473.9,444.53 474.6,444.17 475.3,443.65 476,444.57 476.7,444.27 477.4,443.56 478.1,443.52 478.8,443.28 479.5,444.74 480.2,445.5 480.9,445.47 481.6,445.65 482.3,444.77 483,444.29 483.7,444.42 484.4,444.57 485.1,444.93 485.8,444.54 486.5,444.18 487.2,444.88 487.9,444.69 488.6,444.35 489.3,444.76 490,445.17 490.7,444.84 491.4,444.55 492.1,444.31 492.8,444.59 493.5,444.81 494.2,443.71 494.9,443.6 495.6,444.69 496.3,444.97 497,444.18 497.7,444.39 498.4,445.12 499.1,445.03 499.8,445.47 500.5,444.96 501.2,444.46 501.9,444.46 502.6,444.63 503.3,445.31 504,445.02 504.7,444.78 505.4,444.08 506.1,443.99 506.8,443.76 507.5,444.51 508.2,445.66 508.9,443.75 509.6,441.78 510.3,443.18 511,444.07 511.7,443.65 512.4,443.4 513.1,443.13 513.8,443.44 514.5,443.68 515.2,443.82 515.9,444.26 516.6,444.02 517.3,443.91 518,444.27 518.7,443.88 519.4,443.07 520.1,441.92 520.8,443.26 521.5,443.54 522.2,442.85 522.9,443.33 523.6,443.07 524.3,443.36 525,443.14 525.7,442.47 526.4,443.7 527.1,443.94 527.8,443.89 528.5,444.69 529.2,445.14 529.9,445.09 530.6,443.45 531.3,442.95 532,443.74 532.7,444.76 533.4,445.22 534.1,444.41 534.8,444.53 535.5,444.67 536.2,444.81 536.9,445.14 537.6,445.5 538.3,445.67 539,445.69 539.7,445.59 540.4,445.53 541.1,445.53 541.8,445.57 542.5,445.84 543.2,445.52 543.9,445.27 544.6,445.26 545.3,445.79 546,444.83 546.7,445.29 547.4,445.31 548.1,444.65 548.8,445.74 549.5,446.28 550.2,446.62 550.9,446.28 551.6,446.26 552.3,446.82 553,448.03 553.7,447.8 554.4,445.62 555.1,445.27 555.8,446.59 556.5,448.55 557.2,448.01 557.9,446.19 558.6,446.92 559.3,447.33 560,446.43 560.7,446.81 561.4,446.87 562.1,446.31 562.8,447.71 563.5,447.24 564.2,446.44 564.9,448.02 565.6,448.12 566.3,446.8 567,446.69 567.7,447.71 568.4,447.27 569.1,446.58 569.8,446.69 570.5,446.48 571.2,447.94 571.9,448.55 572.6,447.72 573.3,448.04 574,447.96 574.7,447.19 575.4,448.19 576.1,449.31 576.8,448.36 577.5,448.33" fill="none" stroke="#4d4d4d" stroke-width="2.8" stroke-linejoin="round"/>
<polyline clip-path="url(#clipC)" points="64.9,443.07 65.6,438.96 66.3,435.55 67,431.12 67.7,427.26 68.4,423.41 69.1,419.34 69.8,416.58 70.5,413.87 71.2,410.76 71.9,406.88 72.6,404.82 73.3,403.22 74,399.49 74.7,396.45 75.4,394.14 76.1,391.63 76.8,389.98 77.5,387.52 78.2,386.01 78.9,384.83 79.6,383.07 80.3,382.22 81,380.62 81.7,379.08 82.4,379.26 83.1,379.46 83.8,378.98 84.5,377.69 85.2,376.97 85.9,377.44 86.6,377.22 87.3,375.31 88,373.45 88.7,374.02 89.4,375.22 90.1,374.7 90.8,374.27 91.5,374.14 92.2,373.53 92.9,373.32 93.6,373.1 94.3,372.52 95,373.15 95.7,373.64 96.4,372.23 97.1,371.43 97.8,371.01 98.5,371.21 99.2,370.83 99.9,370.23 100.6,371.15 101.3,371.41 102,371.13 102.7,370.06 103.4,369.97 104.1,370.32 104.8,370.43 105.5,370.18 106.2,370.2 106.9,370.4 107.6,369.78 108.3,369.24 109,368.54 109.7,368.44 110.4,369.07 111.1,368.97 111.8,368.35 112.5,369.14 113.2,369.46 113.9,368.77 114.6,368.76 115.3,368.36 116,367.71 116.7,368.99 117.4,371.59 118.1,372.93 118.8,375.1 119.5,379.71 120.2,386.4 120.9,409.7 121.6,420.37 122.3,425.38 123,430.61 123.7,434.66 124.4,436.33 125.1,437.72 125.8,438.38 126.5,437.82 127.2,436.53 127.9,435.66 128.6,434.87 129.3,434.08 130,435.19 130.7,435.41 131.4,435.27 132.1,435.97 132.8,438.45 133.5,439.02 134.2,438.27 134.9,440.82 135.6,441.97 136.3,442.16 137,443.87 137.7,445.72 138.4,446.87 139.1,447.11 139.8,448.24 140.5,449.29 141.2,449.74 141.9,451.16 142.6,453.03 143.3,454.46 144,454.7 144.7,455.51 145.4,455.74 146.1,455.61 146.8,456.06 147.5,456.1 148.2,455.81 148.9,455.52 149.6,456.67 150.3,456.36 151,456.1 151.7,457.15 152.4,457.44 153.1,458.04 153.8,459.69 154.5,461.74 155.2,463.74 155.9,465.1 156.6,465.21 157.3,465.91 158,468.02 158.7,470.04 159.4,470.51 160.1,472.16 160.8,473.51 161.5,473.43 162.2,474.33 162.9,474.49 163.6,474.62 164.3,474.26 165,468.58 165.7,462.02 166.4,459.45 167.1,460.94 167.8,462.7 168.5,464.26 169.2,465.2 169.9,463.49 170.6,462.07 171.3,461.15 172,459.89 172.7,456.92 173.4,453.84 174.1,452.77 174.8,450.34 175.5,449.25 176.2,448.83 176.9,447.47 177.6,448.2 178.3,448.59 179,449.2 179.7,448.85 180.4,448.24 181.1,447.78 181.8,446.37 182.5,444.92 183.2,443.38 183.9,441.66 184.6,440.56 185.3,440.14 186,438.95 186.7,437.85 187.4,438.71 188.1,438.83 188.8,438.11 189.5,438.75 190.2,438.72 190.9,437.64 191.6,436.03 192.3,434.62 193,433.78 193.7,430.94 194.4,428.5 195.1,428.96 195.8,429.51 196.5,430.67 197.2,432.9 197.9,434.79 198.6,436.2 199.3,436.04 200,435.89 200.7,437.57 201.4,438.88 202.1,439.42 202.8,439.87 203.5,440.54 204.2,440.79 204.9,441.74 205.6,440.99 206.3,438.93 207,437.63 207.7,436.99 208.4,436.59 209.1,434.9 209.8,432.83 210.5,432.18 211.2,430.93 211.9,428.08 212.6,424.79 213.3,422.12 214,420.74 214.7,419.3 215.4,417.46 216.1,415.29 216.8,412.35 217.5,409.88 218.2,408.97 218.9,407.42 219.6,405.78 220.3,404.46 221,404.31 221.7,403.51 222.4,402.49 223.1,402.36 223.8,401.14 224.5,400.24 225.2,398.63 225.9,397.74 226.6,399.06 227.3,398.67 228,396.77 228.7,397.38 229.4,397.65 230.1,397.83 230.8,398.51 231.5,397.22 232.2,396.99 232.9,398.57 233.6,399.16 234.3,398.5 235,398.68 235.7,398.85 236.4,398.68 237.1,399.33 237.8,400.66 238.5,400.66 239.2,401 239.9,401.8 240.6,400.5 241.3,400.58 242,402.32 242.7,401.21 243.4,400.51 244.1,402.03 244.8,402.12 245.5,402.14 246.2,402.69 246.9,402.46 247.6,402.81 248.3,403.35 249,403.67 249.7,404.15 250.4,404.13 251.1,404.04 251.8,404.38 252.5,405.36 253.2,405.47 253.9,406.24 254.6,406.64 255.3,407.25 256,407.93 256.7,407.08 257.4,407.28 258.1,408.11 258.8,408.83 259.5,408.49 260.2,408.86 260.9,409.94 261.6,410.34 262.3,411.16 263,410.2 263.7,409.84 264.4,411.21 265.1,411.99 265.8,413.74 266.5,413.25 267.2,412.29 267.9,413.33 268.6,414.69 269.3,415.8 270,415.41 270.7,415.77 271.4,416.55 272.1,417.08 272.8,417.59 273.5,417.77 274.2,418.16 274.9,417.84 275.6,417.76 276.3,418.85 277,419.37 277.7,419.01 278.4,419.66 279.1,420.8 279.8,421.64 280.5,421.44 281.2,421.43 281.9,422.46 282.6,422.6 283.3,423.2 284,424 284.7,423.38 285.4,424.01 286.1,424.75 286.8,425.62 287.5,426.06 288.2,426.42 288.9,428.04 289.6,427.94 290.3,427.42 291,427.31 291.7,427.48 292.4,428.44 293.1,429.77 293.8,430.35 294.5,429.27 295.2,429.65 295.9,430.06 296.6,430.68 297.3,432 298,431.67 298.7,430.78 299.4,431.18 300.1,431.79 300.8,431.42 301.5,432.04 302.2,431.92 302.9,432.35 303.6,433.69 304.3,434.43 305,434.26 305.7,433.89 306.4,435.2 307.1,436.41 307.8,435.19 308.5,435.16 309.2,436.84 309.9,436.52 310.6,436.82 311.3,437.36 312,436.97 312.7,436.79 313.4,437.97 314.1,438.38 314.8,436.32 315.5,436.37 316.2,437.92 316.9,438.25 317.6,439.64 318.3,440.1 319,439.38 319.7,440.17 320.4,441.01 321.1,440.53 321.8,439.55 322.5,440.03 323.2,441.49 323.9,442.09 324.6,442.37 325.3,442.39 326,442.84 326.7,443.63 327.4,443.42 328.1,443.79 328.8,444.19 329.5,444.29 330.2,443.61 330.9,443.88 331.6,444.82 332.3,445.13 333,445.57 333.7,445.37 334.4,445.71 335.1,446.93 335.8,447.21 336.5,446.68 337.2,446.7 337.9,447.42 338.6,447.23 339.3,446.93 340,447.29 340.7,446.75 341.4,447.53 342.1,448.95 342.8,448.61 343.5,448.27 344.2,448.94 344.9,450.12 345.6,449.97 346.3,450.25 347,451.19 347.7,449.47 348.4,448.93 349.1,450.36 349.8,450.52 350.5,451.03 351.2,451.56 351.9,451.51 352.6,451.41 353.3,450.42 354,450.87 354.7,451.34 355.4,451.65 356.1,452.35 356.8,453.41 357.5,453.45 358.2,451.01 358.9,451.87 359.6,452.92 360.3,452.22 361,452.51 361.7,451.25 362.4,449.81 363.1,450.47 363.8,450.2 364.5,448.62 365.2,448.56 365.9,449.12 366.6,449.54 367.3,449.15 368,448.22 368.7,448.43 369.4,448.62 370.1,448.59 370.8,447.7 371.5,448.17 372.2,448.03 372.9,447.34 373.6,448.19 374.3,447.05 375,446.32 375.7,446.23 376.4,446.39 377.1,446.92 377.8,446.37 378.5,445.79 379.2,445.23 379.9,445.27 380.6,445.75 381.3,445.07 382,444.05 382.7,444.49 383.4,444.34 384.1,443.38 384.8,443.3 385.5,443.56 386.2,443.78 386.9,442.86 387.6,442.52 388.3,442.77 389,443.41 389.7,444.85 390.4,445.2 391.1,444.84 391.8,444.75 392.5,443.61 393.2,442.6 393.9,442.2 394.6,442.87 395.3,443.56 396,442.55 396.7,442.66 397.4,443.07 398.1,443.26 398.8,443.14 399.5,442.32 400.2,442.4 400.9,442.63 401.6,443.04 402.3,442.91 403,442.21 403.7,442.41 404.4,441.98 405.1,441.62 405.8,442.58 406.5,442.35 407.2,442.49 407.9,442.62 408.6,441.94 409.3,442.49 410,442.65 410.7,441.74 411.4,440.85 412.1,441.57 412.8,441.88 413.5,441.59 414.2,442.38 414.9,442.42 415.6,441.82 416.3,441.35 417,441.69 417.7,443.44 418.4,442.9 419.1,440.99 419.8,441.26 420.5,442.61 421.2,442.67 421.9,442 422.6,442.11 423.3,442.26 424,441.83 424.7,441.12 425.4,441.59 426.1,443.18 426.8,442.36 427.5,441.3 428.2,442.02 428.9,441.94 429.6,442.17 430.3,442.07 431,442.43 431.7,442.37 432.4,441.26 433.1,441.59 433.8,442.63 434.5,444.2 435.2,443.83 435.9,443.25 436.6,442.58 437.3,442.22 438,443.76 438.7,443.29 439.4,443.05 440.1,442.97 440.8,442.28 441.5,442.36 442.2,442.99 442.9,442.17 443.6,442.56 444.3,443.41 445,442.42 445.7,443.15 446.4,443.59 447.1,444.34 447.8,443.69 448.5,442.3 449.2,442.65 449.9,443.47 450.6,443.35 451.3,441.95 452,441.07 452.7,441.03 453.4,442.34 454.1,442.74 454.8,443.36 455.5,443.01 456.2,442.35 456.9,442.44 457.6,442.44 458.3,442.81 459,442.69 459.7,442.14 460.4,442.9 461.1,443.56 461.8,442.88 462.5,442.99 463.2,443.03 463.9,444.01 464.6,444.88 465.3,444.41 466,443.37 466.7,443.41 467.4,443.77 468.1,442.57 468.8,442.51 469.5,443.83 470.2,443.85 470.9,443.64 471.6,444.56 472.3,445.34 473,443.96 473.7,443.69 474.4,444.78 475.1,444.84 475.8,444.56 476.5,444.52 477.2,443.76 477.9,443.51 478.6,445.01 479.3,444.58 480,443.99 480.7,444.31 481.4,444.71 482.1,445.71 482.8,445.41 483.5,445.89 484.2,445.88 484.9,445.33 485.6,445.93 486.3,444.92 487,444.19 487.7,444.83 488.4,444.76 489.1,444.01 489.8,444.43 490.5,444.4 491.2,444.47 491.9,445 492.6,445.34 493.3,446.11 494,444.94 494.7,444.2 495.4,445.46 496.1,446.97 496.8,446.59 497.5,445.33 498.2,444.98 498.9,446.08 499.6,446.16 500.3,445.18 501,445.79 501.7,444.82 502.4,443.62 503.1,443.59 503.8,444.27 504.5,445.28 505.2,444.84 505.9,445.38 506.6,445.38 507.3,444.54 508,444.77 508.7,444.02 509.4,443.88 510.1,444.34 510.8,443.79 511.5,443.76 512.2,443.93 512.9,444.45 513.6,444.37 514.3,443.26 515,443.33 515.7,444.09 516.4,445.24 517.1,444.41 517.8,444.06 518.5,445.06 519.2,444.54 519.9,444.51 520.6,445 521.3,444.39 522,443.06 522.7,443.39 523.4,444.25 524.1,444.3 524.8,444.82 525.5,445.83 526.2,445.43 526.9,444.96 527.6,445.3 528.3,444.58 529,444.03 529.7,443.64 530.4,443.15 531.1,444.15 531.8,445.53 532.5,444.98 533.2,445.19 533.9,445.72 534.6,445.35 535.3,444.94 536,444.67 536.7,445.55 537.4,446.24 538.1,445.84 538.8,446.14 539.5,446.57 540.2,445.54 540.9,446.12 541.6,446.83 542.3,447.23 543,446.95 543.7,444.91 544.4,445.72 545.1,447.79 545.8,447.42 546.5,446.7 547.2,448 547.9,448.49 548.6,447.84 549.3,447.14 550,446.47 550.7,446.11 551.4,445.97 552.1,446.64 552.8,447.5 553.5,448.58 554.2,449.17 554.9,448.41 555.6,447.79 556.3,447.94 557,447.84 557.7,448.47 558.4,448.26 559.1,447.36 559.8,447.01 560.5,446.52 561.2,447.53 561.9,448.8 562.6,449.11 563.3,449.14 564,448.25 564.7,448.77 565.4,449.59 566.1,448.53 566.8,448.32 567.5,448.11 568.2,447.79 568.9,448.42 569.6,448.66 570.3,448.67 571,449.03 571.7,448.18 572.4,448.8 573.1,450.72 573.8,449.76 574.5,449.02 575.2,449.93 575.9,449.77 576.6,449.43 577.3,449.13 578,448.84" fill="none" stroke="#4d4d4d" stroke-width="2.8" stroke-linejoin="round"/>
<polyline clip-path="url(#clipC)" points="64.4,445.24 65.1,455.13 65.8,464.32 66.5,471.56 67.2,478.51 67.9,484.73 68.6,489.88 69.3,495.53 70,499.42 70.7,504.7 71.4,508.3 72.1,510.3 72.8,514.06 73.5,515.75 74.2,518.03 74.9,520.33 75.6,521.74 76.3,522.78 77,523.07 77.7,525.38 78.4,527.29 79.1,527.78 79.8,528.81 80.5,529.9 81.2,529.81 81.9,529.19 82.6,529.65 83.3,530.57 84,530.96 84.7,532.18 85.4,533.63 86.1,534.5 86.8,535.39 87.5,535.68 88.2,535.86 88.9,536.47 89.6,536.41 90.3,536.33 91,537.17 91.7,537.49 92.4,537.48 93.1,538.05 93.8,539.3 94.5,539.79 95.2,539.19 95.9,538.98 96.6,539.32 97.3,540.98 98,539.64 98.7,538.96 99.4,540.85 100.1,541.17 100.8,540.61 101.5,541.36 102.2,542.55 102.9,541.52 103.6,541.14 104.3,540.84 105,540.82 105.7,541.14 106.4,541.63 107.1,541.91 107.8,541.42 108.5,541.61 109.2,541.96 109.9,541.75 110.6,540.71 111.3,541.14 112,541.35 112.7,540.33 113.4,540.88 114.1,541.67 114.8,542.45 115.5,541.34 116.2,541.38 116.9,543.08 117.6,542.1 118.3,541.16 119,540.54 119.7,538.28 120.4,532.28 121.1,504.81 121.8,489.21 122.5,479.43 123.2,476.44 123.9,473.45 124.6,469.81 125.3,469.28 126,469.34 126.7,468.84 127.4,468.38 128.1,467.15 128.8,466.66 129.5,467.41 130.2,467.61 130.9,466.4 131.6,466.36 132.3,465.71 133,464.49 133.7,464.74 134.4,463.67 135.1,462.25 135.8,462.18 136.5,461.93 137.2,460.92 137.9,459.75 138.6,458.36 139.3,457.24 140,458.31 140.7,457.22 141.4,454.82 142.1,452.99 142.8,451.09 143.5,450.46 144.2,448.99 144.9,447.8 145.6,446.87 146.3,447.69 147,447.74 147.7,446.6 148.4,448.03 149.1,449.42 149.8,448.66 150.5,447.79 151.2,447.44 151.9,447.74 152.6,447.83 153.3,446.88 154,446.69 154.7,447.41 155.4,446.7 156.1,445.67 156.8,446.05 157.5,446.82 158.2,446.2 158.9,444.63 159.6,444.75 160.3,443.38 161,441.18 161.7,441.28 162.4,441.31 163.1,439.93 163.8,436.55 164.5,434.98 165.2,434.82 165.9,432.61 166.6,430.83 167.3,429.91 168,428.24 168.7,425.79 169.4,423.51 170.1,422.82 170.8,422.45 171.5,421.61 172.2,422.26 172.9,427.8 173.6,436.31 174.3,446.94 175,454.95 175.7,455.74 176.4,456.78 177.1,455.24 177.8,455.5 178.5,455.9 179.2,455.32 179.9,457.57 180.6,461.34 181.3,464.83 182,468.26 182.7,471.23 183.4,472.09 184.1,473.24 184.8,474.95 185.5,475.93 186.2,476.74 186.9,476.47 187.6,477.28 188.3,478.33 189,478.22 189.7,478.57 190.4,479.56 191.1,480.97 191.8,482.66 192.5,483.37 193.2,483.07 193.9,483.52 194.6,484.98 195.3,486.17 196,485.74 196.7,485.52 197.4,485.82 198.1,484.2 198.8,482.99 199.5,482.79 200.2,482.07 200.9,481.04 201.6,480.02 202.3,479.7 203,479.2 203.7,478.21 204.4,479 205.1,479.56 205.8,479.79 206.5,479.8 207.2,480.2 207.9,480.37 208.6,480.18 209.3,482.81 210,486.32 210.7,487.69 211.4,489.63 212.1,492.65 212.8,494.19 213.5,495.37 214.2,495.99 214.9,497.42 215.6,500.16 216.3,503.1 217,505.08 217.7,505.86 218.4,507.21 219.1,507.89 219.8,509.17 220.5,510.58 221.2,511.96 221.9,513.3 222.6,512.85 223.3,512.88 224,512.63 224.7,513.16 225.4,513.62 226.1,513.62 226.8,514.85 227.5,515.2 228.2,514.98 228.9,516.25 229.6,516.45 230.3,515.75 231,515.34 231.7,514.23 232.4,514.52 233.1,514.57 233.8,512.95 234.5,513.86 235.2,515.57 235.9,514.69 236.6,515.1 237.3,515.47 238,514.4 238.7,513.74 239.4,514.32 240.1,514.31 240.8,513.16 241.5,512.82 242.2,512.34 242.9,511.38 243.6,511.05 244.3,511.11 245,511.49 245.7,510.93 246.4,510.6 247.1,510.69 247.8,509.62 248.5,509.47 249.2,509.57 249.9,509.36 250.6,509.28 251.3,508.98 252,507.53 252.7,506.69 253.4,507.94 254.1,507.85 254.8,505.45 255.5,505.22 256.2,506.91 256.9,507.04 257.6,505.84 258.3,504.99 259,504.93 259.7,504.39 260.4,503.48 261.1,504.05 261.8,503.76 262.5,503.12 263.2,502.19 263.9,500.95 264.6,500.84 265.3,501.12 266,501.07 266.7,500.21 267.4,499.74 268.1,499.83 268.8,500.48 269.5,499.78 270.2,499.28 270.9,499.26 271.6,498.31 272.3,498.18 273,498.86 273.7,497.04 274.4,496.39 275.1,498.3 275.8,497.54 276.5,496.71 277.2,496.98 277.9,496.54 278.6,495.86 279.3,495.94 280,496.07 280.7,495.19 281.4,494.65 282.1,493.78 282.8,493.05 283.5,493.27 284.2,493.02 284.9,492.3 285.6,492.66 286.3,492.86 287,492.28 287.7,491.13 288.4,490.18 289.1,490.17 289.8,490.02 290.5,490.91 291.2,491.97 291.9,490.9 292.6,489.47 293.3,488.95 294,488.15 294.7,488.37 295.4,488.11 296.1,486.79 296.8,486.98 297.5,487.09 298.2,486.59 298.9,486.49 299.6,486.47 300.3,486.28 301,485.91 301.7,485.19 302.4,484.32 303.1,484.22 303.8,484.04 304.5,483.74 305.2,483.44 305.9,483.93 306.6,483.29 307.3,482.07 308,481.87 308.7,481.93 309.4,481.11 310.1,479.42 310.8,480.05 311.5,480.68 312.2,479.78 312.9,478.63 313.6,478.79 314.3,479.01 315,477.67 315.7,476.81 316.4,476.39 317.1,476.95 317.8,476.78 318.5,475.14 319.2,474.53 319.9,475.2 320.6,475.4 321.3,474.06 322,472.73 322.7,472.37 323.4,472.67 324.1,472.31 324.8,471.42 325.5,471.17 326.2,470.69 326.9,469.64 327.6,468.73 328.3,468.32 329,468.17 329.7,468.28 330.4,468.18 331.1,467.12 331.8,467.13 332.5,466.44 333.2,465.86 333.9,465.39 334.6,464.23 335.3,464.76 336,464.88 336.7,463.54 337.4,462.67 338.1,462.06 338.8,461.47 339.5,461.81 340.2,461.2 340.9,461.32 341.6,461.45 342.3,460.62 343,459.63 343.7,458.75 344.4,458.72 345.1,458.75 345.8,458.49 346.5,457.38 347.2,456.16 347.9,455.36 348.6,456.52 349.3,457.39 350,456.78 350.7,455.93 351.4,456.1 352.1,456.39 352.8,455.53 353.5,455.12 354.2,454.49 354.9,455.37 355.6,456.45 356.3,456.48 357,456.18 357.7,455.62 358.4,456.22 359.1,458.19 359.8,460.24 360.5,459.97 361.2,459.34 361.9,459.36 362.6,459.49 363.3,460.9 364,461.42 364.7,461.67 365.4,463 366.1,463.12 366.8,462.16 367.5,463.35 368.2,464.5 368.9,464.01 369.6,464.1 370.3,464.12 371,464.55 371.7,464.18 372.4,464.05 373.1,464.37 373.8,464.56 374.5,465.7 375.2,465.85 375.9,466.62 376.6,466.88 377.3,465.82 378,466.18 378.7,466.82 379.4,466.99 380.1,467.06 380.8,466.98 381.5,467.58 382.2,466.93 382.9,466.96 383.6,467.61 384.3,467.28 385,467.21 385.7,468 386.4,467.5 387.1,466.32 387.8,467.24 388.5,468.3 389.2,467.93 389.9,467.94 390.6,469.25 391.3,468.61 392,466.84 392.7,467.76 393.4,469.06 394.1,468.71 394.8,469.42 395.5,469.93 396.2,469.16 396.9,468.93 397.6,468.84 398.3,469.06 399,469.54 399.7,469.63 400.4,469.4 401.1,469.32 401.8,469.87 402.5,470.1 403.2,470.03 403.9,468.75 404.6,469.01 405.3,469.49 406,469.79 406.7,470.42 407.4,469.93 408.1,469.64 408.8,470.57 409.5,470.53 410.2,470.36 410.9,471.61 411.6,472.53 412.3,472.41 413,470.76 413.7,469.6 414.4,469.27 415.1,468.99 415.8,470.06 416.5,470.98 417.2,469.71 417.9,469.9 418.6,470.49 419.3,470.61 420,470.72 420.7,469.61 421.4,469.48 422.1,470.46 422.8,470.4 423.5,469.95 424.2,469.22 424.9,468.79 425.6,469.41 426.3,470.1 427,469.73 427.7,469.08 428.4,470.42 429.1,470.07 429.8,468.8 430.5,468.75 431.2,468.82 431.9,469.67 432.6,470.05 433.3,469.79 434,469.96 434.7,469.7 435.4,469.34 436.1,468.79 436.8,468.93 437.5,469.08 438.2,469.18 438.9,468.92 439.6,468.39 440.3,469.04 441,469 441.7,468.74 442.4,469.36 443.1,469.62 443.8,468.21 444.5,467.72 445.2,468.92 445.9,468.7 446.6,468.99 447.3,469.24 448,467.35 448.7,467.98 449.4,468.43 450.1,466.06 450.8,466.51 451.5,467.73 452.2,467.79 452.9,468.79 453.6,469.09 454.3,468.6 455,467.37 455.7,468.13 456.4,468.98 457.1,468.33 457.8,467.48 458.5,467.08 459.2,467.93 459.9,468.17 460.6,468.16 461.3,467.75 462,466.78 462.7,467.44 463.4,468.23 464.1,468.6 464.8,469.36 465.5,468.71 466.2,467.83 466.9,468.55 467.6,469.2 468.3,468.07 469,468.54 469.7,469.12 470.4,468.07 471.1,467.25 471.8,467.13 472.5,468.07 473.2,468.43 473.9,468.85 474.6,469.14 475.3,467.9 476,467.27 476.7,467.57 477.4,467.28 478.1,467.06 478.8,466.93 479.5,466.79 480.2,467.2 480.9,467.83 481.6,468.47 482.3,467.83 483,466.89 483.7,465.69 484.4,465.83 485.1,467.47 485.8,467.23 486.5,467.1 487.2,466.9 487.9,466.43 488.6,466.05 489.3,465.82 490,465.52 490.7,466.61 491.4,467.91 492.1,467.28 492.8,466.71 493.5,467.37 494.2,467.63 494.9,466.43 495.6,466.11 496.3,466.56 497,466.59 497.7,466.5 498.4,465.41 499.1,464.77 499.8,464.52 500.5,464.99 501.2,465.72 501.9,464.83 502.6,466.07 503.3,467.3 504,465.85 504.7,465.53 505.4,465.39 506.1,465.38 506.8,466.03 507.5,465.22 508.2,465.05 508.9,466.16 509.6,466.31 510.3,464.74 511,464.38 511.7,465.33 512.4,465.19 513.1,465.31 513.8,464.79 514.5,462.98 515.2,464.06 515.9,464.63 516.6,463.73 517.3,463.46 518,463.88 518.7,464.08 519.4,463.67 520.1,464.16 520.8,464.79 521.5,465.71 522.2,465.31 522.9,464.8 523.6,464.48 524.3,464.01 525,463.38 525.7,463.49 526.4,462.83 527.1,462.93 527.8,463.95 528.5,463.44 529.2,463.91 529.9,462.91 530.6,461.77 531.3,462.94 532,463.2 532.7,463.16 533.4,463.14 534.1,462.18 534.8,462.46 535.5,463.09 536.2,463.08 536.9,463.18 537.6,463.87 538.3,463.05 539,461.64 539.7,462.8 540.4,462.6 541.1,461.84 541.8,462.78 542.5,462.85 543.2,462.46 543.9,462.15 544.6,460.9 545.3,461.22 546,462.51 546.7,462.28 547.4,461.55 548.1,461.36 548.8,461.87 549.5,461.48 550.2,460.78 550.9,460.33 551.6,460.73 552.3,460.57 553,460 553.7,461.23 554.4,460.34 555.1,459.16 555.8,460.58 556.5,460.76 557.2,460.8 557.9,460.24 558.6,459.07 559.3,460.16 560,460.02 560.7,459.36 561.4,459.64 562.1,460.22 562.8,459.69 563.5,458.93 564.2,459.85 564.9,460.36 565.6,459.89 566.3,459.54 567,459.03 567.7,459.51 568.4,459.98 569.1,459.29 569.8,459.86 570.5,459.48 571.2,458.46 571.9,458.57 572.6,459.12 573.3,457.89 574,456.19 574.7,457.1 575.4,457.73 576.1,457.29 576.8,458.29 577.5,458.03" fill="none" stroke="#d07c03" stroke-width="2.8" stroke-linejoin="round"/>
<polyline clip-path="url(#clipC)" points="64.9,445.95 65.6,455.45 66.3,465.35 67,473.73 67.7,479.62 68.4,485.36 69.1,491.62 69.8,496.5 70.5,500.65 71.2,504.68 71.9,507.87 72.6,511.26 73.3,514.44 74,517.49 74.7,518.8 75.4,520.71 76.1,523.2 76.8,524.65 77.5,526.38 78.2,526.3 78.9,527.6 79.6,528.59 80.3,528.27 81,530.15 81.7,531.83 82.4,532.75 83.1,533.14 83.8,533.8 84.5,533.73 85.2,534.1 85.9,536.52 86.6,535.79 87.3,534.91 88,536.6 88.7,536.69 89.4,537.04 90.1,537.87 90.8,538.12 91.5,538.34 92.2,538.22 92.9,538.86 93.6,539.38 94.3,538.79 95,540.45 95.7,540.99 96.4,539.91 97.1,539.46 97.8,540.12 98.5,540.77 99.2,540.4 99.9,541.49 100.6,542.27 101.3,541.65 102,541.78 102.7,542.46 103.4,542.19 104.1,541.54 104.8,541.89 105.5,541.62 106.2,541.62 106.9,542.43 107.6,541.63 108.3,541.12 109,543.05 109.7,542.57 110.4,541.36 111.1,542.26 111.8,542.49 112.5,542.85 113.2,543.1 113.9,543.32 114.6,542.85 115.3,541.78 116,541.64 116.7,542.63 117.4,543.04 118.1,543.36 118.8,543.01 119.5,541.25 120.2,539 120.9,534.13 121.6,507.99 122.3,492.18 123,481.31 123.7,476.14 124.4,473.18 125.1,472.45 125.8,471.72 126.5,471.11 127.2,469.71 127.9,469.09 128.6,467.91 129.3,467 130,468.14 130.7,467.92 131.4,468.02 132.1,467.74 132.8,466.9 133.5,466.86 134.2,465.81 134.9,465.58 135.6,464.98 136.3,463.76 137,463.38 137.7,461.98 138.4,461.01 139.1,460.42 139.8,459.12 140.5,459.04 141.2,457.59 141.9,454.86 142.6,454.1 143.3,452.52 144,450.95 144.7,448.91 145.4,448 146.1,448.8 146.8,449.56 147.5,449.12 148.2,448.45 148.9,449.83 149.6,450.05 150.3,449.32 151,449.09 151.7,449.47 152.4,448.55 153.1,447.53 153.8,448.2 154.5,448.63 155.2,448.74 155.9,447.3 156.6,446.95 157.3,447.11 158,447.91 158.7,447.55 159.4,445.93 160.1,445.01 160.8,443.53 161.5,442.53 162.2,442.22 162.9,442.44 163.6,440.18 164.3,438.27 165,437.6 165.7,436.21 166.4,433.72 167.1,432.03 167.8,430.11 168.5,428.13 169.2,427.25 169.9,425.69 170.6,425.29 171.3,424.77 172,425.18 172.7,425.74 173.4,428.99 174.1,437.19 174.8,448.24 175.5,456.38 176.2,457.47 176.9,458.76 177.6,457.5 178.3,456.69 179,458.22 179.7,458.33 180.4,459.27 181.1,462.45 181.8,466.15 182.5,470.52 183.2,472.22 183.9,473.37 184.6,474.68 185.3,475.5 186,477.22 186.7,478.49 187.4,478.48 188.1,478.93 188.8,480.49 189.5,481.05 190.2,480.83 190.9,482.01 191.6,482.72 192.3,482.49 193,484.49 193.7,485.25 194.4,485.01 195.1,486.35 195.8,486.56 196.5,487.64 197.2,488.99 197.9,488.26 198.6,486.09 199.3,485.32 200,484.21 200.7,483.17 201.4,483.4 202.1,482.3 202.8,481.8 203.5,481.42 204.2,480.29 204.9,479.99 205.6,481.09 206.3,480.27 207,479.92 207.7,480.5 208.4,481.91 209.1,482.86 209.8,482.1 210.5,485.34 211.2,489.09 211.9,490.25 212.6,491.51 213.3,493.09 214,495.13 214.7,498.4 215.4,500.77 216.1,502.35 216.8,503.78 217.5,506.07 218.2,508.74 218.9,510.14 219.6,509.72 220.3,510.23 221,511.55 221.7,512.21 222.4,513.66 223.1,515.86 223.8,516.19 224.5,514.98 225.2,514.72 225.9,515.18 226.6,514.74 227.3,514.94 228,516.39 228.7,515.64 229.4,516.12 230.1,517.91 230.8,516.74 231.5,516.03 232.2,516.24 232.9,515.51 233.6,516.24 234.3,516.81 235,515.7 235.7,514.72 236.4,515.49 237.1,515.45 237.8,514.53 238.5,514.97 239.2,515.18 239.9,515.27 240.6,516.31 241.3,515.13 242,514.54 242.7,514.15 243.4,513.04 244.1,513.98 244.8,514.87 245.5,513.07 246.2,512.36 246.9,512.88 247.6,511.76 248.3,511.79 249,512.38 249.7,513.05 250.4,511.92 251.1,509.96 251.8,508.96 252.5,507.74 253.2,506.94 253.9,508.29 254.6,507.83 255.3,506.22 256,506.43 256.7,506.33 257.4,505.79 258.1,505.26 258.8,505.04 259.5,506 260.2,506.35 260.9,505.32 261.6,504.23 262.3,503.89 263,504.09 263.7,503.24 264.4,502.16 265.1,502.42 265.8,502.31 266.5,501.44 267.2,501.48 267.9,501.53 268.6,500.69 269.3,501.26 270,501.64 270.7,500.37 271.4,500.28 272.1,500.79 272.8,500.1 273.5,497.69 274.2,496.7 274.9,497.7 275.6,498.1 276.3,498.56 277,498.45 277.7,497.24 278.4,497.1 279.1,496.6 279.8,496.37 280.5,495.57 281.2,495.56 281.9,495.99 282.6,495.31 283.3,494.96 284,493.46 284.7,493.16 285.4,493.61 286.1,493.53 286.8,493.26 287.5,493.04 288.2,492.37 288.9,490.94 289.6,490.68 290.3,490.53 291,490.35 291.7,490.6 292.4,490.41 293.1,489.96 293.8,489.93 294.5,490.19 295.2,489.9 295.9,489.46 296.6,489.16 297.3,489.12 298,488.43 298.7,486.44 299.4,485.72 300.1,487.37 300.8,486.21 301.5,485.08 302.2,485.56 302.9,485.92 303.6,486.09 304.3,484.82 305,484.27 305.7,483.18 306.4,483.85 307.1,484.75 307.8,482.87 308.5,481.82 309.2,482.22 309.9,481.8 310.6,480.69 311.3,481.12 312,481.12 312.7,480.51 313.4,480.69 314.1,479.67 314.8,479.61 315.5,480.14 316.2,478.4 316.9,476.84 317.6,477.05 318.3,477.49 319,476.65 319.7,475.94 320.4,475.79 321.1,475.33 321.8,475.23 322.5,475.79 323.2,476.16 323.9,474.51 324.6,473.06 325.3,472.71 326,472.24 326.7,471.86 327.4,472.12 328.1,472.34 328.8,470.84 329.5,470.55 330.2,469.99 330.9,468.86 331.6,469.02 332.3,468.25 333,467.06 333.7,466.91 334.4,467.22 335.1,466.48 335.8,466.49 336.5,466.45 337.2,464.77 337.9,464.31 338.6,463.96 339.3,463.37 340,463.43 340.7,463.03 341.4,463.08 342.1,462.51 342.8,461.53 343.5,460.83 344.2,459.33 344.9,458.7 345.6,459.06 346.3,457.54 347,457.18 347.7,458.28 348.4,458.29 349.1,457.92 349.8,457.6 350.5,457.14 351.2,456.14 351.9,456.29 352.6,455.93 353.3,456.39 354,456.44 354.7,456.7 355.4,457.27 356.1,456.59 356.8,456.71 357.5,457.27 358.2,458.32 358.9,458.14 359.6,457.67 360.3,458.93 361,459.58 361.7,460.42 362.4,462.29 363.1,462.16 363.8,463.65 364.5,464.31 365.2,462.46 365.9,463.75 366.6,464.8 367.3,463.83 368,463.81 368.7,465.06 369.4,466.16 370.1,465.67 370.8,464.52 371.5,464.49 372.2,465.63 372.9,466.16 373.6,466.2 374.3,466.58 375,467.42 375.7,467.27 376.4,466.59 377.1,465.86 377.8,466.03 378.5,466.38 379.2,466.24 379.9,467.35 380.6,467.58 381.3,467.63 382,466.92 382.7,466.9 383.4,468.27 384.1,468.61 384.8,468.83 385.5,468.56 386.2,468.79 386.9,468.96 387.6,468.56 388.3,469.45 389,470.43 389.7,470.44 390.4,469.22 391.1,468.7 391.8,469.11 392.5,469.41 393.2,470.57 393.9,471.2 394.6,469.84 395.3,469.5 396,470.33 396.7,469.88 397.4,469.62 398.1,470.64 398.8,470.83 399.5,470.22 400.2,470.13 400.9,468.53 401.6,468.88 402.3,471.15 403,472.21 403.7,473.01 404.4,471.5 405.1,470.33 405.8,470.61 406.5,470.8 407.2,470.57 407.9,470.6 408.6,471.52 409.3,471.72 410,471.61 410.7,471.84 411.4,471.54 412.1,470.8 412.8,470.89 413.5,470.96 414.2,471.19 414.9,471.89 415.6,471.63 416.3,470.19 417,469.37 417.7,470.46 418.4,471.6 419.1,471.63 419.8,469.95 420.5,470.05 421.2,472.79 421.9,472.34 422.6,470.77 423.3,471.32 424,471.03 424.7,469.86 425.4,470.81 426.1,470.82 426.8,470.51 427.5,470.67 428.2,470.12 428.9,469.88 429.6,470.24 430.3,470.63 431,470.24 431.7,469.99 432.4,469.73 433.1,470.47 433.8,471.14 434.5,471.03 435.2,469.96 435.9,469.63 436.6,469.32 437.3,469.86 438,471.61 438.7,471.48 439.4,470.77 440.1,470.31 440.8,469.94 441.5,469.19 442.2,469.7 442.9,470.63 443.6,469.93 444.3,468.65 445,468.55 445.7,469.03 446.4,468.93 447.1,468.16 447.8,467.72 448.5,468.66 449.2,470.37 449.9,469.58 450.6,468.68 451.3,469.25 452,469.32 452.7,469.51 453.4,469.9 454.1,469.88 454.8,468.94 455.5,469.01 456.2,469.4 456.9,469.72 457.6,469.95 458.3,469.81 459,469.51 459.7,469.1 460.4,468.94 461.1,469.12 461.8,469.88 462.5,470.54 463.2,469.59 463.9,468.71 464.6,469 465.3,470.04 466,469.6 466.7,468.69 467.4,467.91 468.1,468.04 468.8,468.75 469.5,468.55 470.2,469.49 470.9,468.78 471.6,467.09 472.3,467.98 473,468.84 473.7,468.88 474.4,469.96 475.1,469.16 475.8,467.69 476.5,467.73 477.2,467.48 477.9,467.49 478.6,468.92 479.3,468.89 480,467.53 480.7,468.14 481.4,469.17 482.1,467.84 482.8,467.58 483.5,468.37 484.2,468.49 484.9,468.3 485.6,467.82 486.3,467.59 487,468.92 487.7,469.75 488.4,468.94 489.1,468.98 489.8,468.6 490.5,468.84 491.2,469 491.9,469.61 492.6,469.72 493.3,469.13 494,467.9 494.7,466.7 495.4,467.07 496.1,466.51 496.8,466.38 497.5,466.8 498.2,466.41 498.9,466.99 499.6,467.19 500.3,466.75 501,466.17 501.7,465.91 502.4,466.22 503.1,465.85 503.8,466.71 504.5,467.23 505.2,466.08 505.9,465.31 506.6,466.17 507.3,466.18 508,465.59 508.7,466.64 509.4,467.33 510.1,466.56 510.8,465.83 511.5,465.88 512.2,465.74 512.9,465.58 513.6,466.25 514.3,466.39 515,465.82 515.7,465.47 516.4,465.77 517.1,465.56 517.8,465.27 518.5,464.89 519.2,464.41 519.9,465.08 520.6,464.87 521.3,464.79 522,465.09 522.7,464.66 523.4,464.89 524.1,465.21 524.8,464.6 525.5,464.5 526.2,465.1 526.9,464.45 527.6,463.31 528.3,464.22 529,464.28 529.7,463.46 530.4,462.75 531.1,462.82 531.8,464.01 532.5,463.35 533.2,463.35 533.9,463.36 534.6,462.9 535.3,464.08 536,465.04 536.7,464.32 537.4,464.1 538.1,463.77 538.8,463.53 539.5,462.98 540.2,462.66 540.9,463.27 541.6,462.44 542.3,462.4 543,462.67 543.7,462.63 544.4,463.07 545.1,462.67 545.8,461.87 546.5,462.17 547.2,462.19 547.9,462.1 548.6,461.67 549.3,462.02 550,462.06 550.7,462.04 551.4,462.89 552.1,461.98 552.8,461.81 553.5,462.79 554.2,462.25 554.9,461.68 555.6,461.26 556.3,461.5 557,461.98 557.7,462.15 558.4,462.44 559.1,461.55 559.8,460.53 560.5,460.89 561.2,461.82 561.9,461.12 562.6,460.93 563.3,461.21 564,460.49 564.7,459.78 565.4,459.77 566.1,460.53 566.8,459.98 567.5,459.32 568.2,459.62 568.9,459.2 569.6,458.64 570.3,459.09 571,460 571.7,459.53 572.4,458.28 573.1,458.29 573.8,458.56 574.5,458.54 575.2,458.01 575.9,458.13 576.6,458.28 577.3,458.29 578,458.37" fill="none" stroke="#d07c03" stroke-width="2.8" stroke-linejoin="round"/>
<rect x="446.4" y="416.4" width="99" height="1.6" fill="#efd3c6"/>
<rect x="446.4" y="404.5" width="99" height="12.3" fill="#dcf592"/>
<rect x="448.7" y="392.8" width="28.2" height="11.8" fill="#c0c0c0"/>
<rect x="481.4" y="392.8" width="28.2" height="11.8" fill="#c0c0c0"/>
<rect x="514.2" y="392.8" width="28.2" height="11.8" fill="#c0c0c0"/>
<path d="M490.7,400.8 Q476,416.1 462.5,404.2" fill="none" stroke="#000" stroke-width="3.6"/>
<polygon points="455.6,397 470.2,402 458.4,412" fill="#000"/>
<path d="M498,400.5 Q513,416.3 527.5,402" fill="none" stroke="#000" stroke-width="1.4"/>
<polygon points="531.2,398 523.8,401 528.6,405.8" fill="#000"/>
<rect x="446.4" y="514.6" width="99" height="1.6" fill="#efd3c6"/>
<rect x="446.4" y="502.7" width="99" height="12.3" fill="#dcf592"/>
<rect x="448.7" y="491" width="28.2" height="11.8" fill="#c0c0c0"/>
<rect x="481.4" y="491" width="28.2" height="11.8" fill="#c0c0c0"/>
<rect x="514.2" y="491" width="28.2" height="11.8" fill="#c0c0c0"/>
<g transform="translate(991.6,0) scale(-1,1)">
<path d="M490.7,499 Q476,514.3 462.5,502.4" fill="none" stroke="#000" stroke-width="3.6"/>
<polygon points="455.6,495.2 470.2,500.2 458.4,510.2" fill="#000"/>
<path d="M498,498.7 Q513,514.5 527.5,500.2" fill="none" stroke="#000" stroke-width="1.4"/>
<polygon points="531.2,496.2 523.8,499.2 528.6,504" fill="#000"/>
</g>
<line x1="63.7" y1="257.18" x2="577.5" y2="257.18" stroke="#000" stroke-width="1.1"/>
<line x1="63.7" y1="460.58" x2="577.5" y2="460.58" stroke="#000" stroke-width="1.1"/>
<line clip-path="url(#clipB)" x1="89.2" y1="348.9" x2="89.2" y2="144.1" stroke="#d07c03" stroke-width="2.75" stroke-dasharray="2.78 4.6"/>
<line clip-path="url(#clipC)" x1="89.2" y1="552.3" x2="89.2" y2="347.8" stroke="#d07c03" stroke-width="2.75" stroke-dasharray="2.78 4.6"/>
<line clip-path="url(#clipB)" x1="119.7" y1="348.9" x2="119.7" y2="144.1" stroke="#d07c03" stroke-width="2.75" stroke-dasharray="2.78 4.6"/>
<line clip-path="url(#clipC)" x1="119.7" y1="552.3" x2="119.7" y2="347.8" stroke="#d07c03" stroke-width="2.75" stroke-dasharray="2.78 4.6"/>
<line clip-path="url(#clipB)" x1="171.79" y1="348.9" x2="171.79" y2="144.1" stroke="#d07c03" stroke-width="2.75" stroke-dasharray="2.78 4.6"/>
<line clip-path="url(#clipC)" x1="171.79" y1="552.3" x2="171.79" y2="347.8" stroke="#d07c03" stroke-width="2.75" stroke-dasharray="2.78 4.6"/>
<line clip-path="url(#clipB)" x1="189.26" y1="348.9" x2="189.26" y2="144.1" stroke="#0b6f8e" stroke-width="2.75" stroke-dasharray="2.78 4.6"/>
<line clip-path="url(#clipC)" x1="189.26" y1="552.3" x2="189.26" y2="347.8" stroke="#0b6f8e" stroke-width="2.75" stroke-dasharray="2.78 4.6"/>
<line clip-path="url(#clipB)" x1="300.69" y1="348.9" x2="300.69" y2="144.1" stroke="#0b6f8e" stroke-width="2.75" stroke-dasharray="2.78 4.6"/>
<line clip-path="url(#clipC)" x1="300.69" y1="552.3" x2="300.69" y2="347.8" stroke="#0b6f8e" stroke-width="2.75" stroke-dasharray="2.78 4.6"/>
<line clip-path="url(#clipB)" x1="495.61" y1="348.9" x2="495.61" y2="144.1" stroke="#0b6f8e" stroke-width="2.75" stroke-dasharray="2.78 4.6"/>
<line clip-path="url(#clipC)" x1="495.61" y1="552.3" x2="495.61" y2="347.8" stroke="#0b6f8e" stroke-width="2.75" stroke-dasharray="2.78 4.6"/>
<line x1="192.15" y1="144.1" x2="192.15" y2="150.6" stroke="#000" stroke-width="1.6"/>
<line x1="192.15" y1="347.8" x2="192.15" y2="341.3" stroke="#000" stroke-width="1.6"/>
<line x1="320.6" y1="144.1" x2="320.6" y2="150.6" stroke="#000" stroke-width="1.6"/>
<line x1="320.6" y1="347.8" x2="320.6" y2="341.3" stroke="#000" stroke-width="1.6"/>
<line x1="449.05" y1="144.1" x2="449.05" y2="150.6" stroke="#000" stroke-width="1.6"/>
<line x1="449.05" y1="347.8" x2="449.05" y2="341.3" stroke="#000" stroke-width="1.6"/>
<line x1="63.7" y1="303.55" x2="70.2" y2="303.55" stroke="#000" stroke-width="1.6"/>
<line x1="577.5" y1="303.55" x2="571" y2="303.55" stroke="#000" stroke-width="1.6"/>
<line x1="63.7" y1="215.05" x2="70.2" y2="215.05" stroke="#000" stroke-width="1.6"/>
<line x1="577.5" y1="215.05" x2="571" y2="215.05" stroke="#000" stroke-width="1.6"/>
<rect x="63.7" y="144.1" width="513.8" height="203.7" fill="none" stroke="#000" stroke-width="2.3"/>
<line x1="192.15" y1="347.8" x2="192.15" y2="354.3" stroke="#000" stroke-width="1.6"/>
<line x1="192.15" y1="551.2" x2="192.15" y2="544.7" stroke="#000" stroke-width="1.6"/>
<line x1="320.6" y1="347.8" x2="320.6" y2="354.3" stroke="#000" stroke-width="1.6"/>
<line x1="320.6" y1="551.2" x2="320.6" y2="544.7" stroke="#000" stroke-width="1.6"/>
<line x1="449.05" y1="347.8" x2="449.05" y2="354.3" stroke="#000" stroke-width="1.6"/>
<line x1="449.05" y1="551.2" x2="449.05" y2="544.7" stroke="#000" stroke-width="1.6"/>
<line x1="63.7" y1="506.95" x2="70.2" y2="506.95" stroke="#000" stroke-width="1.6"/>
<line x1="577.5" y1="506.95" x2="571" y2="506.95" stroke="#000" stroke-width="1.6"/>
<line x1="63.7" y1="418.45" x2="70.2" y2="418.45" stroke="#000" stroke-width="1.6"/>
<line x1="577.5" y1="418.45" x2="571" y2="418.45" stroke="#000" stroke-width="1.6"/>
<rect x="63.7" y="347.8" width="513.8" height="203.4" fill="none" stroke="#000" stroke-width="2.3"/>
<text x="63.7" y="575.9" font-size="24" text-anchor="middle" fill="#000" textLength="14.2" lengthAdjust="spacingAndGlyphs" stroke="#000" stroke-width="0.3" >0</text>
<text x="192.15" y="575.9" font-size="24" text-anchor="middle" fill="#000" textLength="28.4" lengthAdjust="spacingAndGlyphs" stroke="#000" stroke-width="0.3" >20</text>
<text x="320.6" y="575.9" font-size="24" text-anchor="middle" fill="#000" textLength="28.4" lengthAdjust="spacingAndGlyphs" stroke="#000" stroke-width="0.3" >40</text>
<text x="449.05" y="575.9" font-size="24" text-anchor="middle" fill="#000" textLength="28.4" lengthAdjust="spacingAndGlyphs" stroke="#000" stroke-width="0.3" >60</text>
<text x="577.5" y="575.9" font-size="24" text-anchor="middle" fill="#000" textLength="28.4" lengthAdjust="spacingAndGlyphs" stroke="#000" stroke-width="0.3" >80</text>
<text x="55.5" y="312.15" font-size="24" text-anchor="end" fill="#000" textLength="12.9" lengthAdjust="spacingAndGlyphs" stroke="#000" stroke-width="0.3" >0</text>
<text x="55.5" y="223.65" font-size="24" text-anchor="end" fill="#000" textLength="12.9" lengthAdjust="spacingAndGlyphs" stroke="#000" stroke-width="0.3" >5</text>
<text x="55.5" y="515.55" font-size="24" text-anchor="end" fill="#000" textLength="12.9" lengthAdjust="spacingAndGlyphs" stroke="#000" stroke-width="0.3" >0</text>
<text x="55.5" y="427.05" font-size="24" text-anchor="end" fill="#000" textLength="12.9" lengthAdjust="spacingAndGlyphs" stroke="#000" stroke-width="0.3" >5</text>
<g>
<text x="270" y="597.9" font-size="23.4" text-anchor="start" fill="#000" font-style="italic" textLength="13.6" lengthAdjust="spacingAndGlyphs" stroke="#000" stroke-width="0.3" >μ</text>
<text x="283.8" y="602.2" font-size="16.8" text-anchor="start" fill="#000" textLength="9.8" lengthAdjust="spacingAndGlyphs" stroke="#000" stroke-width="0.3" >0</text>
<text x="294" y="597.9" font-size="23.4" text-anchor="start" fill="#000" font-style="italic" textLength="17" lengthAdjust="spacingAndGlyphs" stroke="#000" stroke-width="0.3" >H</text>
<text x="318.2" y="597.9" font-size="23.4" text-anchor="start" fill="#000" textLength="51.6" lengthAdjust="spacingAndGlyphs" stroke="#000" stroke-width="0.3" >(mT)</text>
</g>
<g transform="translate(32,326.95) rotate(-90)">
<text x="-0.4" y="0" font-size="24" text-anchor="start" fill="#000" textLength="14.4" lengthAdjust="spacingAndGlyphs" stroke="#000" stroke-width="0.3" >Δ</text>
<text x="14.8" y="0" font-size="24" text-anchor="start" fill="#000" font-style="italic" textLength="15.4" lengthAdjust="spacingAndGlyphs" stroke="#000" stroke-width="0.3" >R</text>
<text x="31.2" y="5.8" font-size="17.2" text-anchor="start" fill="#000" textLength="12" lengthAdjust="spacingAndGlyphs" stroke="#000" stroke-width="0.3" >nl</text>
<text x="33.2" y="-9.2" font-size="17.2" text-anchor="start" fill="#000" textLength="9.6" lengthAdjust="spacingAndGlyphs" stroke="#000" stroke-width="0.3" >1</text>
<text x="43.2" y="-9.2" font-size="17.2" text-anchor="start" fill="#000" font-style="italic" textLength="13" lengthAdjust="spacingAndGlyphs" stroke="#000" stroke-width="0.3" >ω</text>
<text x="56" y="1.3" font-size="20.5" text-anchor="start" fill="#000" textLength="9" lengthAdjust="spacingAndGlyphs" stroke="#000" stroke-width="0.3" >/</text>
<text x="63.6" y="0" font-size="24" text-anchor="start" fill="#000" textLength="13.7" lengthAdjust="spacingAndGlyphs" stroke="#000" stroke-width="0.3" >Σ</text>
<text x="77.4" y="0" font-size="24" text-anchor="start" fill="#000" font-style="italic" textLength="15.4" lengthAdjust="spacingAndGlyphs" stroke="#000" stroke-width="0.3" >R</text>
<text x="93" y="5.8" font-size="17.2" text-anchor="start" fill="#000" textLength="12" lengthAdjust="spacingAndGlyphs" stroke="#000" stroke-width="0.3" >nl</text>
<text x="94.4" y="-9.2" font-size="17.2" text-anchor="start" fill="#000" textLength="9.6" lengthAdjust="spacingAndGlyphs" stroke="#000" stroke-width="0.3" >1</text>
<text x="104.4" y="-9.2" font-size="17.2" text-anchor="start" fill="#000" font-style="italic" textLength="13" lengthAdjust="spacingAndGlyphs" stroke="#000" stroke-width="0.3" >ω</text>
<text x="125" y="0" font-size="24" text-anchor="start" fill="#000" textLength="38.5" lengthAdjust="spacingAndGlyphs" stroke="#000" stroke-width="0.3" >(%)</text>
</g>
<g transform="translate(32,530.5) rotate(-90)">
<text x="-0.4" y="0" font-size="24" text-anchor="start" fill="#000" textLength="14.4" lengthAdjust="spacingAndGlyphs" stroke="#000" stroke-width="0.3" >Δ</text>
<text x="14.8" y="0" font-size="24" text-anchor="start" fill="#000" font-style="italic" textLength="15.4" lengthAdjust="spacingAndGlyphs" stroke="#000" stroke-width="0.3" >R</text>
<text x="31.2" y="5.8" font-size="17.2" text-anchor="start" fill="#000" textLength="12" lengthAdjust="spacingAndGlyphs" stroke="#000" stroke-width="0.3" >nl</text>
<text x="33.2" y="-9.2" font-size="17.2" text-anchor="start" fill="#000" textLength="9.6" lengthAdjust="spacingAndGlyphs" stroke="#000" stroke-width="0.3" >1</text>
<text x="43.2" y="-9.2" font-size="17.2" text-anchor="start" fill="#000" font-style="italic" textLength="13" lengthAdjust="spacingAndGlyphs" stroke="#000" stroke-width="0.3" >ω</text>
<text x="56" y="1.3" font-size="20.5" text-anchor="start" fill="#000" textLength="9" lengthAdjust="spacingAndGlyphs" stroke="#000" stroke-width="0.3" >/</text>
<text x="63.6" y="0" font-size="24" text-anchor="start" fill="#000" textLength="13.7" lengthAdjust="spacingAndGlyphs" stroke="#000" stroke-width="0.3" >Σ</text>
<text x="77.4" y="0" font-size="24" text-anchor="start" fill="#000" font-style="italic" textLength="15.4" lengthAdjust="spacingAndGlyphs" stroke="#000" stroke-width="0.3" >R</text>
<text x="93" y="5.8" font-size="17.2" text-anchor="start" fill="#000" textLength="12" lengthAdjust="spacingAndGlyphs" stroke="#000" stroke-width="0.3" >nl</text>
<text x="94.4" y="-9.2" font-size="17.2" text-anchor="start" fill="#000" textLength="9.6" lengthAdjust="spacingAndGlyphs" stroke="#000" stroke-width="0.3" >1</text>
<text x="104.4" y="-9.2" font-size="17.2" text-anchor="start" fill="#000" font-style="italic" textLength="13" lengthAdjust="spacingAndGlyphs" stroke="#000" stroke-width="0.3" >ω</text>
<text x="125" y="0" font-size="24" text-anchor="start" fill="#000" textLength="38.5" lengthAdjust="spacingAndGlyphs" stroke="#000" stroke-width="0.3" >(%)</text>
</g>
<line x1="317.4" y1="324.5" x2="342.9" y2="324.5" stroke="#8a0c0c" stroke-width="2.8"/>
<text x="352.2" y="332.3" font-size="23.3" text-anchor="start" fill="#000" textLength="76.5" lengthAdjust="spacingAndGlyphs" stroke="#000" stroke-width="0.3" >90 deg</text>
<line x1="317.4" y1="501.2" x2="342.9" y2="501.3" stroke="#4d4d4d" stroke-width="2.8"/>
<text x="352.8" y="508.5" font-size="23.3" text-anchor="start" fill="#000" textLength="75.5" lengthAdjust="spacingAndGlyphs" stroke="#000" stroke-width="0.3" >72 deg</text>
<line x1="317.4" y1="528" x2="342.9" y2="528" stroke="#d07c03" stroke-width="2.8"/>
<text x="352.4" y="534.7" font-size="23.3" text-anchor="start" fill="#000" textLength="90" lengthAdjust="spacingAndGlyphs" stroke="#000" stroke-width="0.3" >108 deg</text>
<text x="1.5" y="150.6" font-size="23" text-anchor="start" fill="#000" font-weight="bold" >b</text>
<text x="1.5" y="356.3" font-size="23" text-anchor="start" fill="#000" font-weight="bold" >c</text>
</g>
<g id="schem">
<rect x="621.1" y="219.1" width="52.5" height="54.6" fill="#dcf592"/>
<rect x="626.7" y="219.1" width="6.9" height="54.6" fill="#c0c0c0"/>
<rect x="645" y="219.1" width="6.9" height="54.6" fill="#c0c0c0"/>
<rect x="663.3" y="219.1" width="6.9" height="54.6" fill="#c0c0c0"/>
<line x1="675.5" y1="214.3" x2="615.9" y2="214.3" stroke="#8a0c0c" stroke-width="3.2"/>
<polygon points="602.2,214.3 616.4,206.3 616.4,222.3" fill="#8a0c0c"/>
<text x="590.6" y="235.1" font-size="22.2" text-anchor="start" fill="#000" font-style="italic" textLength="17.2" lengthAdjust="spacingAndGlyphs" stroke="#000" stroke-width="0.3" >H</text>
<line x1="649.2" y1="246.1" x2="617.3" y2="246.1" stroke="#8a0c0c" stroke-width="1.7"/>
<polygon points="609.1,246.1 617.8,241.4 617.8,250.8" fill="#8a0c0c"/>
<line x1="649.2" y1="246.1" x2="649.2" y2="277.3" stroke="#8a0c0c" stroke-width="1.7"/>
<polygon points="649.2,284.8 644.3,276.8 654.1,276.8" fill="#8a0c0c"/>
<circle cx="649.2" cy="246.1" r="0.85" fill="#8a0c0c"/>
<text x="594" y="262.9" font-size="22.2" text-anchor="start" fill="#000" font-style="italic" textLength="12.4" lengthAdjust="spacingAndGlyphs" stroke="#000" stroke-width="0.3" >k</text>
<path d="M611.9,253.3 v15.5 M615.1,253.3 v15.5" stroke="#000" stroke-width="1.3" fill="none"/>
<text x="653.8" y="291.4" font-size="22.2" text-anchor="start" fill="#000" font-style="italic" textLength="12.4" lengthAdjust="spacingAndGlyphs" stroke="#000" stroke-width="0.3" >k</text>
<path d="M669.8,294 h9.7 M674.65,294 v-9.6" stroke="#000" stroke-width="1.45" fill="none"/>
<rect x="616.5" y="387.5" width="52.5" height="54.6" fill="#dcf592"/>
<rect x="622.1" y="387.5" width="6.9" height="54.6" fill="#c0c0c0"/>
<rect x="640.4" y="387.5" width="6.9" height="54.6" fill="#c0c0c0"/>
<rect x="658.7" y="387.5" width="6.9" height="54.6" fill="#c0c0c0"/>
<line x1="675" y1="383" x2="617.72" y2="367.4" stroke="#4d4d4d" stroke-width="3.2"/>
<polygon points="604.5,363.8 620.3,359.81 616.1,375.25" fill="#4d4d4d"/>
<text x="587.4" y="379.1" font-size="22.2" text-anchor="start" fill="#000" font-style="italic" textLength="17.2" lengthAdjust="spacingAndGlyphs" stroke="#000" stroke-width="0.3" >H</text>
<line x1="643.6" y1="409" x2="614.34" y2="401.45" stroke="#4d4d4d" stroke-width="1.7"/>
<polygon points="606.4,399.4 616,397.02 613.65,406.12" fill="#4d4d4d"/>
<line x1="643.6" y1="409" x2="635.49" y2="440.04" stroke="#4d4d4d" stroke-width="1.7"/>
<polygon points="633.6,447.3 630.88,438.32 640.36,440.8" fill="#4d4d4d"/>
<circle cx="643.6" cy="409" r="0.85" fill="#4d4d4d"/>
<text x="581.8" y="417.4" font-size="22.2" text-anchor="start" fill="#000" font-style="italic" textLength="12.4" lengthAdjust="spacingAndGlyphs" stroke="#000" stroke-width="0.3" >k</text>
<path d="M599.7,407.8 v15.5 M602.9,407.8 v15.5" stroke="#000" stroke-width="1.3" fill="none"/>
<text x="660" y="445" font-size="22.2" text-anchor="start" fill="#000" font-style="italic" textLength="12.4" lengthAdjust="spacingAndGlyphs" stroke="#000" stroke-width="0.3" >k</text>
<path d="M676,447.6 h9.7 M680.85,447.6 v-9.6" stroke="#000" stroke-width="1.45" fill="none"/>
<rect x="616.5" y="491.2" width="52.5" height="54.6" fill="#dcf592"/>
<rect x="622.1" y="491.2" width="6.9" height="54.6" fill="#c0c0c0"/>
<rect x="640.4" y="491.2" width="6.9" height="54.6" fill="#c0c0c0"/>
<rect x="658.7" y="491.2" width="6.9" height="54.6" fill="#c0c0c0"/>
<line x1="675" y1="469.6" x2="617.05" y2="484.9" stroke="#d07c03" stroke-width="3.2"/>
<polygon points="603.8,488.4 615.49,477.04 619.57,492.51" fill="#d07c03"/>
<text x="587.4" y="482.8" font-size="22.2" text-anchor="start" fill="#000" font-style="italic" textLength="17.2" lengthAdjust="spacingAndGlyphs" stroke="#000" stroke-width="0.3" >H</text>
<line x1="643.6" y1="512.9" x2="614.35" y2="520.37" stroke="#d07c03" stroke-width="1.7"/>
<polygon points="606.4,522.4 613.67,515.69 615.99,524.8" fill="#d07c03"/>
<line x1="643.6" y1="512.9" x2="651.69" y2="543.55" stroke="#d07c03" stroke-width="1.7"/>
<polygon points="653.6,550.8 646.82,544.31 656.3,541.81" fill="#d07c03"/>
<circle cx="643.6" cy="512.9" r="0.85" fill="#d07c03"/>
<text x="581.8" y="520.2" font-size="22.2" text-anchor="start" fill="#000" font-style="italic" textLength="12.4" lengthAdjust="spacingAndGlyphs" stroke="#000" stroke-width="0.3" >k</text>
<path d="M599.7,510.6 v15.5 M602.9,510.6 v15.5" stroke="#000" stroke-width="1.3" fill="none"/>
<text x="660" y="548.5" font-size="22.2" text-anchor="start" fill="#000" font-style="italic" textLength="12.4" lengthAdjust="spacingAndGlyphs" stroke="#000" stroke-width="0.3" >k</text>
<path d="M676,551.1 h9.7 M680.85,551.1 v-9.6" stroke="#000" stroke-width="1.45" fill="none"/>
</g>
<g id="panelD">
<linearGradient id="gl" gradientUnits="userSpaceOnUse" x1="94.7" y1="0" x2="363.1" y2="0"><stop offset="0.0000" stop-color="#d07c03"/><stop offset="0.0343" stop-color="#d07c03"/><stop offset="0.0939" stop-color="#cb790d"/><stop offset="0.1535" stop-color="#c67717"/><stop offset="0.2131" stop-color="#b87030"/><stop offset="0.2727" stop-color="#a8674f"/><stop offset="0.3323" stop-color="#9a6168"/><stop offset="0.3920" stop-color="#8c5982"/><stop offset="0.4516" stop-color="#87578b"/><stop offset="0.5000" stop-color="#85568f"/><stop offset="0.5484" stop-color="#87578b"/><stop offset="0.6080" stop-color="#8c5982"/><stop offset="0.6677" stop-color="#9a6168"/><stop offset="0.7273" stop-color="#a8674f"/><stop offset="0.7869" stop-color="#b87030"/><stop offset="0.8465" stop-color="#c67717"/><stop offset="0.9061" stop-color="#cb790d"/><stop offset="0.9657" stop-color="#d07c03"/><stop offset="1.0000" stop-color="#d07c03"/></linearGradient>
<line x1="101.56" y1="698.7" x2="356.64" y2="698.7" stroke="#a9a9a9" stroke-width="2.5"/>
<polygon points="96.6,698.7 102.8,702.5 102.8,694.9" fill="#a9a9a9"/>
<polygon points="361.6,698.7 355.4,702.5 355.4,694.9" fill="#a9a9a9"/>
<line x1="103.2" y1="714.23" x2="354.4" y2="682.97" stroke="#606060" stroke-width="2.5"/>
<polygon points="97.8,714.9 105.04,718.03 104.05,710.09" fill="#606060"/>
<polygon points="359.8,682.3 353.55,687.11 352.56,679.17" fill="#606060"/>
<rect x="219.9" y="692.7" width="18" height="12" fill="#fff"/>
<polyline points="94.7,698.7 94.75,696.68 94.88,694.67 95.11,692.66 95.42,690.66 95.81,688.68 96.28,686.72 96.82,684.78 97.43,682.85 98.09,680.94 98.81,679.05 99.58,677.18 100.39,675.33 101.24,673.5 102.13,671.69 103.05,669.9 104.01,668.13 105.01,666.37 106.03,664.64 107.1,662.92 108.2,661.24 109.37,659.59 110.59,657.99 111.89,656.43 113.27,654.92 114.72,653.49 116.24,652.13 117.83,650.86 119.49,649.69 121.21,648.64 123,647.7 124.84,646.9 126.73,646.21 128.66,645.61 130.62,645.1 132.6,644.64 134.58,644.22 136.57,643.83 138.56,643.47 140.55,643.13 142.54,642.84 144.54,642.59 146.54,642.39 148.55,642.24 150.56,642.15 152.58,642.11 154.6,642.1 156.61,642.14 158.63,642.22 160.64,642.34 162.65,642.51 164.66,642.72 166.66,642.98 168.65,643.29 170.64,643.67 172.61,644.11 174.57,644.62 176.51,645.21 178.43,645.87 180.3,646.62 182.14,647.46 183.92,648.39 185.66,649.4 187.35,650.51 188.99,651.68 190.6,652.9 192.17,654.18 193.72,655.49 195.25,656.82 196.76,658.17 198.25,659.53 199.74,660.89 201.21,662.27 202.67,663.65 204.13,665.04 205.58,666.43 207.04,667.82 208.49,669.21 209.95,670.6 211.4,671.99 212.86,673.38 214.33,674.77 215.79,676.15 217.27,677.54 218.75,678.92 220.25,680.28 221.83,681.53 223.55,682.58 225.42,683.36 227.39,683.8 229.41,683.89 231.41,683.62 233.33,683.01 235.13,682.08 236.77,680.92 238.31,679.61 239.79,678.23 241.27,676.85 242.74,675.46 244.21,674.07 245.67,672.69 247.13,671.3 248.58,669.91 250.04,668.52 251.49,667.13 252.94,665.74 254.4,664.35 255.86,662.96 257.33,661.58 258.8,660.21 260.29,658.84 261.79,657.49 263.31,656.15 264.85,654.83 266.41,653.53 268,652.28 269.63,651.08 271.29,649.95 273,648.88 274.76,647.91 276.57,647.03 278.43,646.24 280.33,645.53 282.25,644.91 284.21,644.36 286.17,643.88 288.16,643.47 290.14,643.13 292.14,642.84 294.14,642.6 296.15,642.42 298.16,642.28 300.18,642.18 302.19,642.12 304.21,642.1 306.23,642.12 308.24,642.19 310.26,642.31 312.26,642.48 314.26,642.71 316.26,642.98 318.25,643.29 320.24,643.65 322.22,644.03 324.21,644.43 326.2,644.86 328.17,645.35 330.11,645.9 332.02,646.54 333.89,647.28 335.7,648.15 337.46,649.15 339.15,650.26 340.77,651.48 342.33,652.8 343.82,654.2 345.23,655.67 346.57,657.2 347.83,658.78 349.02,660.41 350.16,662.08 351.24,663.78 352.28,665.5 353.29,667.25 354.27,669.01 355.21,670.79 356.12,672.6 356.99,674.42 357.82,676.26 358.61,678.12 359.36,680 360.05,681.89 360.69,683.81 361.26,685.75 361.76,687.7 362.2,689.67 362.55,691.66 362.81,693.66 363,695.67 363.09,697.69 363.09,699.71 363,701.73 362.81,703.74 362.55,705.74 362.2,707.73 361.76,709.7 361.26,711.65 360.69,713.59 360.05,715.51 359.36,717.4 358.61,719.28 357.82,721.14 356.99,722.98 356.12,724.8 355.21,726.61 354.27,728.39 353.29,730.15 352.28,731.9 351.24,733.62 350.16,735.32 349.02,736.99 347.83,738.62 346.57,740.2 345.23,741.73 343.82,743.2 342.33,744.6 340.77,745.92 339.15,747.14 337.46,748.25 335.7,749.25 333.89,750.12 332.02,750.86 330.11,751.5 328.17,752.05 326.2,752.54 324.21,752.97 322.22,753.37 320.24,753.75 318.25,754.11 316.26,754.42 314.26,754.69 312.26,754.92 310.26,755.09 308.24,755.21 306.23,755.28 304.21,755.3 302.19,755.28 300.18,755.22 298.16,755.12 296.15,754.98 294.14,754.8 292.14,754.56 290.14,754.27 288.16,753.93 286.17,753.52 284.21,753.04 282.25,752.49 280.33,751.87 278.43,751.16 276.57,750.37 274.76,749.49 273,748.52 271.29,747.45 269.63,746.32 268,745.12 266.41,743.87 264.85,742.57 263.31,741.25 261.79,739.91 260.29,738.56 258.8,737.19 257.33,735.82 255.86,734.44 254.4,733.05 252.94,731.66 251.49,730.27 250.04,728.88 248.58,727.49 247.13,726.1 245.67,724.71 244.21,723.33 242.74,721.94 241.27,720.55 239.79,719.17 238.31,717.79 236.77,716.48 235.13,715.32 233.33,714.39 231.41,713.78 229.41,713.51 227.39,713.6 225.42,714.04 223.55,714.82 221.83,715.87 220.25,717.12 218.75,718.48 217.27,719.86 215.79,721.25 214.33,722.63 212.86,724.02 211.4,725.41 209.95,726.8 208.49,728.19 207.04,729.58 205.58,730.97 204.13,732.36 202.67,733.75 201.21,735.13 199.74,736.51 198.25,737.87 196.76,739.23 195.25,740.58 193.72,741.91 192.17,743.22 190.6,744.5 188.99,745.72 187.35,746.89 185.66,748 183.92,749.01 182.14,749.94 180.3,750.78 178.43,751.53 176.51,752.19 174.57,752.78 172.61,753.29 170.64,753.73 168.65,754.11 166.66,754.42 164.66,754.68 162.65,754.89 160.64,755.06 158.63,755.18 156.61,755.26 154.6,755.3 152.58,755.29 150.56,755.25 148.55,755.16 146.54,755.01 144.54,754.81 142.54,754.56 140.55,754.27 138.56,753.93 136.57,753.57 134.58,753.18 132.6,752.76 130.62,752.3 128.66,751.79 126.73,751.19 124.84,750.5 123,749.7 121.21,748.76 119.49,747.71 117.83,746.54 116.24,745.27 114.72,743.91 113.27,742.48 111.89,740.97 110.59,739.41 109.37,737.81 108.2,736.16 107.1,734.48 106.03,732.76 105.01,731.03 104.01,729.27 103.05,727.5 102.13,725.71 101.24,723.9 100.39,722.07 99.58,720.22 98.81,718.35 98.09,716.46 97.43,714.55 96.82,712.62 96.28,710.68 95.81,708.72 95.42,706.74 95.11,704.74 94.88,702.73 94.75,700.72 94.7,698.7" fill="none" stroke="url(#gl)" stroke-width="3.6" stroke-linejoin="round"/>
<line x1="217.3" y1="682.88" x2="217.3" y2="713.92" stroke="#000" stroke-width="2.5"/>
<polygon points="217.3,678.4 213.8,684 220.8,684" fill="#000"/>
<polygon points="217.3,718.4 213.8,712.8 220.8,712.8" fill="#000"/>
<circle cx="217.3" cy="698.7" r="4.1" fill="#0b6f8e"/>
<line x1="240.4" y1="682.88" x2="240.4" y2="713.92" stroke="#000" stroke-width="2.5"/>
<polygon points="240.4,678.4 236.9,684 243.9,684" fill="#000"/>
<polygon points="240.4,718.4 236.9,712.8 243.9,712.8" fill="#000"/>
<circle cx="240.4" cy="698.7" r="4.1" fill="#0b6f8e"/>
<rect x="104.9" y="674.9" width="27.6" height="19.7" fill="#dcf592"/>
<rect x="119.2" y="675.6" width="6.4" height="18.3" fill="#d8c65c"/>
<rect x="125.2" y="675.6" width="1.5" height="18.3" fill="#d8860f"/>
<path d="M104.9,675.6 h27.6 M104.9,693.9 h27.6 M118.6,674.9 v19.7" stroke="#808080" stroke-width="1.9" fill="none"/>
<rect x="216.4" y="643" width="27.8" height="20.4" fill="#dcf592"/>
<path d="M231.2,662.6 L231.9,662.6 C233.2,655 234.6,648.5 237.2,643.9 L231.2,643.9 Z" fill="#a8a98e"/>
<path d="M231.9,662.6 C233.2,655 234.6,648.5 237.2,643.9" fill="none" stroke="#7d55a0" stroke-width="1.9"/>
<path d="M216.4,643.7 h27.8 M216.4,662.7 h27.8 M230.6,643 v20.4" stroke="#808080" stroke-width="1.9" fill="none"/>
<rect x="215.1" y="733.8" width="27.9" height="20.8" fill="#dcf592"/>
<path d="M229.9,734.7 L230.4,734.7 C231.5,742 232.8,749 236.2,753.8 L229.9,753.8 Z" fill="#a8a98e"/>
<path d="M230.4,734.7 C231.5,742 232.8,749 236.2,753.8" fill="none" stroke="#7d55a0" stroke-width="1.9"/>
<path d="M215.1,734.5 h27.9 M215.1,753.9 h27.9 M229.3,733.8 v20.8" stroke="#808080" stroke-width="1.9" fill="none"/>
<rect x="248.9" y="703.3" width="28" height="20.3" fill="#dcf592"/>
<path d="M262.8,704.2 L268.2,704.2 C266.8,710 264.6,711.5 262.8,713.4 Z" fill="#7fb78b"/>
<path d="M262.8,722.9 L257.9,722.9 C258.6,717 260.8,715.4 262.8,713.4 Z" fill="#7fb78b"/>
<path d="M268.2,704.2 C266.8,710 264.6,711.5 262.8,713.4 C260.8,715.4 258.6,717 257.9,722.9" fill="none" stroke="#0b6f8e" stroke-width="2.0"/>
<path d="M248.9,704 h28 M248.9,722.9 h28 M262.7,703.3 v20.3" stroke="#808080" stroke-width="1.9" fill="none"/>
<text x="88" y="637.2" font-size="22.2" text-anchor="start" fill="#000" textLength="63.5" lengthAdjust="spacingAndGlyphs" stroke="#000" stroke-width="0.3" >20 mT</text>
<text x="259.6" y="777.7" font-size="22.2" text-anchor="start" fill="#000" textLength="93" lengthAdjust="spacingAndGlyphs" stroke="#000" stroke-width="0.3" >2.58 GHz</text>
<linearGradient id="gt" gradientUnits="userSpaceOnUse" x1="268" y1="0" x2="314" y2="0"><stop offset="0" stop-color="#85568f"/><stop offset="0.2" stop-color="#85568f"/><stop offset="0.78" stop-color="#d07c03"/><stop offset="1" stop-color="#d07c03"/></linearGradient>
<g fill="url(#gt)">
<text x="268.2" y="637.8" font-size="24.2" font-style="italic" textLength="12.8" lengthAdjust="spacingAndGlyphs">n</text>
<text x="282.6" y="637.8" font-size="24.2" textLength="16.6" lengthAdjust="spacingAndGlyphs">=</text>
<text x="300.6" y="637.8" font-size="24.2" textLength="13.6" lengthAdjust="spacingAndGlyphs">0</text>
</g>
<text x="280.6" y="722.3" font-size="24" text-anchor="start" fill="#0b6f8e" font-style="italic" textLength="12.8" lengthAdjust="spacingAndGlyphs" stroke="#0b6f8e" stroke-width="0.3" >n</text>
<text x="294.4" y="722.3" font-size="24" text-anchor="start" fill="#0b6f8e" textLength="16.6" lengthAdjust="spacingAndGlyphs" stroke="#0b6f8e" stroke-width="0.3" >=</text>
<text x="312.8" y="722.3" font-size="24" text-anchor="start" fill="#0b6f8e" textLength="13.4" lengthAdjust="spacingAndGlyphs" stroke="#0b6f8e" stroke-width="0.3" >1</text>
<path d="M150.2,612.8 v6.6 M150.2,784.3 v-6.6" stroke="#000" stroke-width="1.6"/>
<path d="M228.9,612.8 v6.6 M228.9,784.3 v-6.6" stroke="#000" stroke-width="1.6"/>
<path d="M307.6,612.8 v6.6 M307.6,784.3 v-6.6" stroke="#000" stroke-width="1.6"/>
<path d="M81.2,620.4 h6.6 M376.9,620.4 h-6.6" stroke="#000" stroke-width="1.6"/>
<path d="M81.2,698.7 h6.6 M376.9,698.7 h-6.6" stroke="#000" stroke-width="1.6"/>
<path d="M81.2,777 h6.6 M376.9,777 h-6.6" stroke="#000" stroke-width="1.6"/>
<rect x="81.2" y="612.8" width="295.7" height="171.5" fill="none" stroke="#000" stroke-width="2.4"/>
<linearGradient id="gr" gradientUnits="userSpaceOnUse" x1="405" y1="0" x2="661.8" y2="0"><stop offset="0.0000" stop-color="#d07c03"/><stop offset="0.0343" stop-color="#d07c03"/><stop offset="0.0939" stop-color="#cb790d"/><stop offset="0.1535" stop-color="#c67717"/><stop offset="0.2131" stop-color="#b87030"/><stop offset="0.2727" stop-color="#a8674f"/><stop offset="0.3323" stop-color="#9a6168"/><stop offset="0.3920" stop-color="#8c5982"/><stop offset="0.4516" stop-color="#87578b"/><stop offset="0.5000" stop-color="#85568f"/><stop offset="0.5484" stop-color="#87578b"/><stop offset="0.6080" stop-color="#8c5982"/><stop offset="0.6677" stop-color="#9a6168"/><stop offset="0.7273" stop-color="#a8674f"/><stop offset="0.7869" stop-color="#b87030"/><stop offset="0.8465" stop-color="#c67717"/><stop offset="0.9061" stop-color="#cb790d"/><stop offset="0.9657" stop-color="#d07c03"/><stop offset="1.0000" stop-color="#d07c03"/></linearGradient>
<line x1="410.76" y1="698.7" x2="656.24" y2="698.7" stroke="#a9a9a9" stroke-width="2.5"/>
<polygon points="405.8,698.7 412,702.5 412,694.9" fill="#a9a9a9"/>
<polygon points="661.2,698.7 655,702.5 655,694.9" fill="#a9a9a9"/>
<line x1="420.88" y1="726.31" x2="645.92" y2="671.19" stroke="#606060" stroke-width="2.5"/>
<polygon points="415.6,727.6 423.16,729.87 421.25,722.1" fill="#606060"/>
<polygon points="651.2,669.9 645.55,675.4 643.64,667.63" fill="#606060"/>
<polyline points="405,698.7 405.03,696.81 405.12,694.93 405.28,693.05 405.49,691.17 405.77,689.31 406.1,687.45 406.49,685.61 406.94,683.77 407.44,681.96 408,680.15 408.63,678.37 409.31,676.6 410.05,674.86 410.85,673.14 411.72,671.46 412.66,669.82 413.67,668.23 414.76,666.69 415.93,665.21 417.16,663.78 418.47,662.42 419.84,661.11 421.25,659.86 422.72,658.65 424.22,657.5 425.76,656.4 427.34,655.36 428.95,654.37 430.6,653.45 432.28,652.6 434,651.81 435.74,651.1 437.52,650.47 439.32,649.9 441.14,649.39 442.99,648.96 444.84,648.58 446.7,648.27 448.58,648.01 450.45,647.82 452.33,647.68 454.22,647.59 456.1,647.56 457.99,647.59 459.88,647.66 461.77,647.79 463.65,647.98 465.52,648.22 467.39,648.53 469.24,648.9 471.07,649.33 472.89,649.84 474.69,650.41 476.46,651.04 478.22,651.72 479.96,652.46 481.69,653.23 483.39,654.05 485.08,654.9 486.75,655.77 488.41,656.68 490.05,657.61 491.67,658.57 493.28,659.56 494.87,660.56 496.45,661.6 498.01,662.65 499.55,663.73 501.09,664.82 502.61,665.93 504.12,667.06 505.63,668.19 507.12,669.34 508.61,670.5 510.09,671.67 511.57,672.84 513.05,674.01 514.52,675.19 516,676.36 517.48,677.53 518.96,678.69 520.45,679.84 521.95,680.98 523.47,682.08 525.04,683.13 526.67,684.11 528.36,684.97 530.13,685.61 531.98,685.94 533.87,685.99 535.75,685.81 537.57,685.32 539.3,684.56 540.95,683.63 542.55,682.62 544.1,681.54 545.61,680.42 547.1,679.27 548.58,678.11 550.06,676.94 551.54,675.77 553.02,674.6 554.49,673.42 555.97,672.25 557.45,671.08 558.93,669.92 560.42,668.77 561.92,667.62 563.43,666.49 564.95,665.37 566.48,664.27 568.02,663.19 569.57,662.12 571.14,661.08 572.73,660.06 574.33,659.06 575.94,658.09 577.57,657.14 579.22,656.22 580.88,655.33 582.56,654.47 584.26,653.64 585.97,652.84 587.71,652.08 589.46,651.37 591.22,650.72 593.01,650.11 594.82,649.58 596.64,649.11 598.49,648.71 600.34,648.37 602.21,648.09 604.09,647.88 605.98,647.72 607.86,647.62 609.75,647.57 611.64,647.57 613.53,647.63 615.41,647.74 617.29,647.91 619.16,648.13 621.03,648.42 622.89,648.76 624.74,649.17 626.57,649.64 628.38,650.17 630.17,650.78 631.93,651.45 633.67,652.2 635.36,653.02 637.03,653.91 638.66,654.86 640.25,655.87 641.81,656.95 643.33,658.07 644.82,659.25 646.26,660.48 647.65,661.76 648.99,663.1 650.26,664.49 651.47,665.94 652.59,667.45 653.64,669.02 654.62,670.63 655.52,672.29 656.36,673.99 657.13,675.72 657.84,677.48 658.49,679.26 659.08,681.05 659.62,682.86 660.1,684.69 660.51,686.53 660.88,688.38 661.18,690.24 661.42,692.11 661.61,693.99 661.73,695.87 661.79,697.76 661.79,699.64 661.73,701.53 661.61,703.41 661.42,705.29 661.18,707.16 660.88,709.02 660.51,710.87 660.1,712.71 659.62,714.54 659.08,716.35 658.49,718.14 657.84,719.92 657.13,721.68 656.36,723.41 655.52,725.11 654.62,726.77 653.64,728.38 652.59,729.95 651.47,731.46 650.26,732.91 648.99,734.3 647.65,735.64 646.26,736.92 644.82,738.15 643.33,739.33 641.81,740.45 640.25,741.53 638.66,742.54 637.03,743.49 635.36,744.38 633.67,745.2 631.93,745.95 630.17,746.62 628.38,747.23 626.57,747.76 624.74,748.23 622.89,748.64 621.03,748.98 619.16,749.27 617.29,749.49 615.41,749.66 613.53,749.77 611.64,749.83 609.75,749.83 607.86,749.78 605.98,749.68 604.09,749.52 602.21,749.31 600.34,749.03 598.49,748.69 596.64,748.29 594.82,747.82 593.01,747.29 591.22,746.68 589.46,746.03 587.71,745.32 585.97,744.56 584.26,743.76 582.56,742.93 580.88,742.07 579.22,741.18 577.57,740.26 575.94,739.31 574.33,738.34 572.73,737.34 571.14,736.32 569.57,735.28 568.02,734.21 566.48,733.13 564.95,732.03 563.43,730.91 561.92,729.78 560.42,728.63 558.93,727.48 557.45,726.32 555.97,725.15 554.49,723.98 553.02,722.8 551.54,721.63 550.06,720.46 548.58,719.29 547.1,718.13 545.61,716.98 544.1,715.86 542.55,714.78 540.95,713.77 539.3,712.84 537.57,712.08 535.75,711.59 533.87,711.41 531.98,711.46 530.13,711.79 528.36,712.43 526.67,713.29 525.04,714.27 523.47,715.32 521.95,716.42 520.45,717.56 518.96,718.71 517.48,719.87 516,721.04 514.52,722.21 513.05,723.39 511.57,724.56 510.09,725.73 508.61,726.9 507.12,728.06 505.63,729.21 504.12,730.34 502.61,731.47 501.09,732.58 499.55,733.67 498.01,734.75 496.45,735.8 494.87,736.84 493.28,737.84 491.67,738.83 490.05,739.79 488.41,740.72 486.75,741.63 485.08,742.5 483.39,743.35 481.69,744.17 479.96,744.94 478.22,745.68 476.46,746.36 474.69,746.99 472.89,747.56 471.07,748.07 469.24,748.5 467.39,748.87 465.52,749.18 463.65,749.42 461.77,749.61 459.88,749.74 457.99,749.81 456.1,749.84 454.22,749.81 452.33,749.72 450.45,749.58 448.58,749.39 446.7,749.13 444.84,748.82 442.99,748.44 441.14,748.01 439.32,747.5 437.52,746.93 435.74,746.3 434,745.59 432.28,744.8 430.6,743.95 428.95,743.03 427.34,742.04 425.76,741 424.22,739.9 422.72,738.75 421.25,737.54 419.84,736.29 418.47,734.98 417.16,733.62 415.93,732.19 414.76,730.71 413.67,729.17 412.66,727.58 411.72,725.94 410.85,724.26 410.05,722.54 409.31,720.8 408.63,719.03 408,717.25 407.44,715.44 406.94,713.63 406.49,711.79 406.1,709.95 405.77,708.09 405.49,706.23 405.28,704.35 405.12,702.47 405.03,700.59 405,698.7" fill="none" stroke="url(#gr)" stroke-width="3.6" stroke-linejoin="round"/>
<line x1="533.4" y1="691.56" x2="533.4" y2="705.64" stroke="#000" stroke-width="2.3"/>
<polygon points="533.4,687.4 530.1,692.6 536.7,692.6" fill="#000"/>
<polygon points="533.4,709.8 530.1,704.6 536.7,704.6" fill="#000"/>
<circle cx="533.4" cy="698.7" r="4.2" fill="#0b6f8e"/>
<text x="396.4" y="637.2" font-size="22.2" text-anchor="start" fill="#000" textLength="50" lengthAdjust="spacingAndGlyphs" stroke="#000" stroke-width="0.3" >8 mT</text>
<text x="565.6" y="777.7" font-size="22.2" text-anchor="start" fill="#000" textLength="93" lengthAdjust="spacingAndGlyphs" stroke="#000" stroke-width="0.3" >2.11 GHz</text>
<path d="M455.5,612.8 v6.6 M455.5,784.3 v-6.6" stroke="#000" stroke-width="1.6"/>
<path d="M533.4,612.8 v6.6 M533.4,784.3 v-6.6" stroke="#000" stroke-width="1.6"/>
<path d="M611.3,612.8 v6.6 M611.3,784.3 v-6.6" stroke="#000" stroke-width="1.6"/>
<path d="M386,620.4 h6.6 M679.7,620.4 h-6.6" stroke="#000" stroke-width="1.6"/>
<path d="M386,698.7 h6.6 M679.7,698.7 h-6.6" stroke="#000" stroke-width="1.6"/>
<path d="M386,777 h6.6 M679.7,777 h-6.6" stroke="#000" stroke-width="1.6"/>
<rect x="386" y="612.8" width="293.7" height="171.5" fill="none" stroke="#000" stroke-width="2.4"/>
<text x="150.2" y="810" font-size="24" text-anchor="middle" fill="#000" textLength="47" lengthAdjust="spacingAndGlyphs" stroke="#000" stroke-width="0.3" >−20</text>
<text x="228.9" y="810" font-size="24" text-anchor="middle" fill="#000" textLength="13.7" lengthAdjust="spacingAndGlyphs" stroke="#000" stroke-width="0.3" >0</text>
<text x="307.6" y="810" font-size="24" text-anchor="middle" fill="#000" textLength="27.4" lengthAdjust="spacingAndGlyphs" stroke="#000" stroke-width="0.3" >20</text>
<text x="455.5" y="810" font-size="24" text-anchor="middle" fill="#000" textLength="47" lengthAdjust="spacingAndGlyphs" stroke="#000" stroke-width="0.3" >−20</text>
<text x="533.4" y="810" font-size="24" text-anchor="middle" fill="#000" textLength="13.7" lengthAdjust="spacingAndGlyphs" stroke="#000" stroke-width="0.3" >0</text>
<text x="611.3" y="810" font-size="24" text-anchor="middle" fill="#000" textLength="27.4" lengthAdjust="spacingAndGlyphs" stroke="#000" stroke-width="0.3" >20</text>
<text x="72.8" y="629" font-size="24" text-anchor="end" fill="#000" textLength="27.4" lengthAdjust="spacingAndGlyphs" stroke="#000" stroke-width="0.3" >20</text>
<text x="72.8" y="707.3" font-size="24" text-anchor="end" fill="#000" textLength="13.7" lengthAdjust="spacingAndGlyphs" stroke="#000" stroke-width="0.3" >0</text>
<text x="72.8" y="785.6" font-size="24" text-anchor="end" fill="#000" textLength="47" lengthAdjust="spacingAndGlyphs" stroke="#000" stroke-width="0.3" >−20</text>
<text x="330" y="835.6" font-size="24" text-anchor="start" fill="#000" font-style="italic" textLength="12.4" lengthAdjust="spacingAndGlyphs" stroke="#000" stroke-width="0.3" >k</text>
<path d="M348.1,827.6 v15.5 M351.3,827.6 v15.5" stroke="#000" stroke-width="1.3" fill="none"/>
<text x="365" y="835.6" font-size="24" text-anchor="start" fill="#000" textLength="44.5" lengthAdjust="spacingAndGlyphs" stroke="#000" stroke-width="0.3" >(µm</text>
<text x="408.6" y="826.8" font-size="17.2" text-anchor="start" fill="#000" textLength="20.9" lengthAdjust="spacingAndGlyphs" stroke="#000" stroke-width="0.3" >−1</text>
<text x="432.2" y="835.6" font-size="24" text-anchor="start" fill="#000" textLength="8" lengthAdjust="spacingAndGlyphs" stroke="#000" stroke-width="0.3" >)</text>
<g transform="translate(19.8,755.2) rotate(-90)">
<text x="0" y="0" font-size="24" text-anchor="start" fill="#000" font-style="italic" textLength="12.4" lengthAdjust="spacingAndGlyphs" stroke="#000" stroke-width="0.3" >k</text>
<path d="M16.6,3.1 h6.9 M20.05,3.1 v-10" stroke="#000" stroke-width="1.45" fill="none"/>
<text x="37.4" y="0" font-size="24" text-anchor="start" fill="#000" textLength="44.5" lengthAdjust="spacingAndGlyphs" stroke="#000" stroke-width="0.3" >(µm</text>
<text x="81" y="-8.8" font-size="17.2" text-anchor="start" fill="#000" textLength="20.9" lengthAdjust="spacingAndGlyphs" stroke="#000" stroke-width="0.3" >−1</text>
<text x="104.6" y="0" font-size="24" text-anchor="start" fill="#000" textLength="8" lengthAdjust="spacingAndGlyphs" stroke="#000" stroke-width="0.3" >)</text>
</g>
<text x="1.2" y="617" font-size="23.2" text-anchor="start" fill="#000" font-weight="bold" >d</text>
</g>
</svg>
</body></html>
